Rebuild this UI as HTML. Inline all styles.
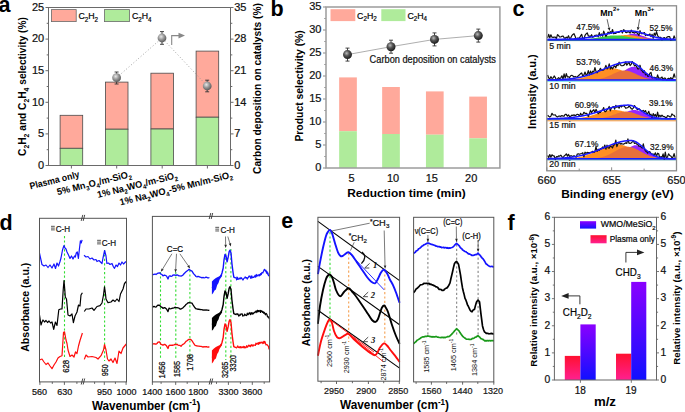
<!DOCTYPE html>
<html><head><meta charset="utf-8"><style>
html,body{margin:0;padding:0;background:#fff;}
svg{display:block;font-family:"Liberation Sans", sans-serif;}
text[font-weight="normal"]{stroke:#111;stroke-width:0.22px;}
</style></head><body>
<svg width="685" height="412" viewBox="0 0 685 412">
<defs>
<radialGradient id="sphA" cx="0.4" cy="0.35" r="0.65"><stop offset="0" stop-color="#e8e8e8"/><stop offset="0.5" stop-color="#9a9a9a"/><stop offset="1" stop-color="#5a5a5a"/></radialGradient>
<radialGradient id="sphB" cx="0.4" cy="0.35" r="0.65"><stop offset="0" stop-color="#bbbbbb"/><stop offset="0.45" stop-color="#555"/><stop offset="1" stop-color="#1a1a1a"/></radialGradient>
<linearGradient id="gPur" x1="0" y1="0" x2="0" y2="1"><stop offset="0" stop-color="#8a00ff"/><stop offset="1" stop-color="#1010ff"/></linearGradient>
<linearGradient id="gRed" x1="0" y1="0" x2="0" y2="1"><stop offset="0" stop-color="#ff1030"/><stop offset="1" stop-color="#ff2090"/></linearGradient>
</defs>
<rect width="685" height="412" fill="#fff"/>
<rect x="60.1" y="115.3" width="22.6" height="33" fill="#ffa99b" stroke="#4a4a4a" stroke-width="0.8" />
<rect x="60.1" y="148.3" width="22.6" height="17.2" fill="#afeb9b" stroke="#4a4a4a" stroke-width="0.8" />
<rect x="105.4" y="82.1" width="22.6" height="47.1" fill="#ffa99b" stroke="#4a4a4a" stroke-width="0.8" />
<rect x="105.4" y="129.2" width="22.6" height="36.3" fill="#afeb9b" stroke="#4a4a4a" stroke-width="0.8" />
<rect x="150.9" y="73.2" width="22.6" height="55.8" fill="#ffa99b" stroke="#4a4a4a" stroke-width="0.8" />
<rect x="150.9" y="129" width="22.6" height="36.5" fill="#afeb9b" stroke="#4a4a4a" stroke-width="0.8" />
<rect x="196.1" y="51.1" width="22.6" height="66.1" fill="#ffa99b" stroke="#4a4a4a" stroke-width="0.8" />
<rect x="196.1" y="117.2" width="22.6" height="48.3" fill="#afeb9b" stroke="#4a4a4a" stroke-width="0.8" />
<rect x="48.5" y="7.5" width="182" height="158" fill="none" stroke="#6a6a6a" stroke-width="1" />
<line x1="45.5" y1="165.5" x2="48.5" y2="165.5" stroke="#6a6a6a" stroke-width="1" />
<text x="44.2" y="168.8" font-size="11" font-weight="normal" text-anchor="end" fill="#111" >0</text>
<line x1="45.5" y1="133.9" x2="48.5" y2="133.9" stroke="#6a6a6a" stroke-width="1" />
<text x="44.2" y="137.2" font-size="11" font-weight="normal" text-anchor="end" fill="#111" >5</text>
<line x1="45.5" y1="102.3" x2="48.5" y2="102.3" stroke="#6a6a6a" stroke-width="1" />
<text x="44.2" y="105.6" font-size="11" font-weight="normal" text-anchor="end" fill="#111" >10</text>
<line x1="45.5" y1="70.7" x2="48.5" y2="70.7" stroke="#6a6a6a" stroke-width="1" />
<text x="44.2" y="74" font-size="11" font-weight="normal" text-anchor="end" fill="#111" >15</text>
<line x1="45.5" y1="39.1" x2="48.5" y2="39.1" stroke="#6a6a6a" stroke-width="1" />
<text x="44.2" y="42.4" font-size="11" font-weight="normal" text-anchor="end" fill="#111" >20</text>
<line x1="45.5" y1="7.5" x2="48.5" y2="7.5" stroke="#6a6a6a" stroke-width="1" />
<text x="44.2" y="10.8" font-size="11" font-weight="normal" text-anchor="end" fill="#111" >25</text>
<line x1="46.7" y1="149.7" x2="48.5" y2="149.7" stroke="#6a6a6a" stroke-width="1" />
<line x1="46.7" y1="118.1" x2="48.5" y2="118.1" stroke="#6a6a6a" stroke-width="1" />
<line x1="46.7" y1="86.5" x2="48.5" y2="86.5" stroke="#6a6a6a" stroke-width="1" />
<line x1="46.7" y1="54.9" x2="48.5" y2="54.9" stroke="#6a6a6a" stroke-width="1" />
<line x1="46.7" y1="23.3" x2="48.5" y2="23.3" stroke="#6a6a6a" stroke-width="1" />
<line x1="230.5" y1="165.5" x2="233.5" y2="165.5" stroke="#6a6a6a" stroke-width="1" />
<text x="234.2" y="168.8" font-size="11" font-weight="normal" text-anchor="start" fill="#111" >0</text>
<line x1="230.5" y1="133.9" x2="233.5" y2="133.9" stroke="#6a6a6a" stroke-width="1" />
<text x="234.2" y="137.2" font-size="11" font-weight="normal" text-anchor="start" fill="#111" >7</text>
<line x1="230.5" y1="102.3" x2="233.5" y2="102.3" stroke="#6a6a6a" stroke-width="1" />
<text x="234.2" y="105.6" font-size="11" font-weight="normal" text-anchor="start" fill="#111" >14</text>
<line x1="230.5" y1="70.7" x2="233.5" y2="70.7" stroke="#6a6a6a" stroke-width="1" />
<text x="234.2" y="74" font-size="11" font-weight="normal" text-anchor="start" fill="#111" >21</text>
<line x1="230.5" y1="39.1" x2="233.5" y2="39.1" stroke="#6a6a6a" stroke-width="1" />
<text x="234.2" y="42.4" font-size="11" font-weight="normal" text-anchor="start" fill="#111" >28</text>
<line x1="230.5" y1="7.5" x2="233.5" y2="7.5" stroke="#6a6a6a" stroke-width="1" />
<text x="234.2" y="10.8" font-size="11" font-weight="normal" text-anchor="start" fill="#111" >35</text>
<line x1="230.5" y1="149.7" x2="232.3" y2="149.7" stroke="#6a6a6a" stroke-width="1" />
<line x1="230.5" y1="118.1" x2="232.3" y2="118.1" stroke="#6a6a6a" stroke-width="1" />
<line x1="230.5" y1="86.5" x2="232.3" y2="86.5" stroke="#6a6a6a" stroke-width="1" />
<line x1="230.5" y1="54.9" x2="232.3" y2="54.9" stroke="#6a6a6a" stroke-width="1" />
<line x1="230.5" y1="23.3" x2="232.3" y2="23.3" stroke="#6a6a6a" stroke-width="1" />
<line x1="71.4" y1="165.5" x2="71.4" y2="168.5" stroke="#6a6a6a" stroke-width="1" />
<line x1="116.7" y1="165.5" x2="116.7" y2="168.5" stroke="#6a6a6a" stroke-width="1" />
<line x1="162.2" y1="165.5" x2="162.2" y2="168.5" stroke="#6a6a6a" stroke-width="1" />
<line x1="207.4" y1="165.5" x2="207.4" y2="168.5" stroke="#6a6a6a" stroke-width="1" />
<rect x="51.4" y="9.6" width="24.8" height="12" fill="#ffa99b" stroke="#6a6a6a" stroke-width="0.8" />
<text x="78.4" y="19.3" font-size="9.3" font-weight="normal" text-anchor="start" fill="#000" textLength="19.6" lengthAdjust="spacingAndGlyphs"><tspan dy="0">C</tspan><tspan dy="2.2" font-size="6.6">2</tspan><tspan dy="-2.2">H</tspan><tspan dy="2.2" font-size="6.6">2</tspan></text>
<rect x="104.5" y="9.6" width="25" height="12" fill="#afeb9b" stroke="#6a6a6a" stroke-width="0.8" />
<text x="131.9" y="19.3" font-size="9.3" font-weight="normal" text-anchor="start" fill="#000" textLength="19.6" lengthAdjust="spacingAndGlyphs"><tspan dy="0">C</tspan><tspan dy="2.2" font-size="6.6">2</tspan><tspan dy="-2.2">H</tspan><tspan dy="2.2" font-size="6.6">4</tspan></text>
<path d="M116.6,77.7 L162,38 L207.2,86" stroke="#999" stroke-width="0.9" fill="none" stroke-dasharray="1 2.2"/>
<line x1="116.6" y1="72" x2="116.6" y2="84" stroke="#333" stroke-width="0.9" />
<line x1="114.6" y1="72" x2="118.6" y2="72" stroke="#333" stroke-width="0.9" />
<line x1="114.6" y1="84" x2="118.6" y2="84" stroke="#333" stroke-width="0.9" />
<circle cx="116.6" cy="77.7" r="4.4" fill="url(#sphA)"/>
<line x1="162" y1="31.6" x2="162" y2="44.3" stroke="#333" stroke-width="0.9" />
<line x1="160" y1="31.6" x2="164" y2="31.6" stroke="#333" stroke-width="0.9" />
<line x1="160" y1="44.3" x2="164" y2="44.3" stroke="#333" stroke-width="0.9" />
<circle cx="162" cy="38" r="4.4" fill="url(#sphA)"/>
<line x1="207.2" y1="80.2" x2="207.2" y2="91.8" stroke="#333" stroke-width="0.9" />
<line x1="205.2" y1="80.2" x2="209.2" y2="80.2" stroke="#333" stroke-width="0.9" />
<line x1="205.2" y1="91.8" x2="209.2" y2="91.8" stroke="#333" stroke-width="0.9" />
<circle cx="207.2" cy="86" r="4.4" fill="url(#sphA)"/>
<path d="M171.7,45 L171.7,35.6 L179.5,35.6" stroke="#888" stroke-width="1.1" fill="none" />
<polygon points="178.5,32.8 185,35.6 178.5,38.4" fill="#888" />
<text x="25.6" y="155.9" font-size="11" font-weight="bold" text-anchor="start" fill="#000" transform="rotate(-90 25.6 155.9)" textLength="138.8" lengthAdjust="spacingAndGlyphs"><tspan dy="0">C</tspan><tspan dy="3.08" font-size="7.48">2</tspan><tspan dy="-3.08">H</tspan><tspan dy="3.08" font-size="7.48">2</tspan><tspan dy="-3.08"> and C</tspan><tspan dy="3.08" font-size="7.48">2</tspan><tspan dy="-3.08">H</tspan><tspan dy="3.08" font-size="7.48">4</tspan><tspan dy="-3.08"> selectivity (%)</tspan></text>
<text x="261.3" y="174" font-size="11" font-weight="bold" text-anchor="start" fill="#000" transform="rotate(-90 261.3 174)" textLength="171" lengthAdjust="spacingAndGlyphs">Carbon deposition on catalysts (%)</text>
<text x="30.5" y="189.5" font-size="9.5" font-weight="bold" text-anchor="start" fill="#000" transform="rotate(-14 30.5 189.5)" textLength="51" lengthAdjust="spacingAndGlyphs"><tspan dy="0">Plasma only</tspan></text>
<text x="57.8" y="195.3" font-size="9.5" font-weight="bold" text-anchor="start" fill="#000" transform="rotate(-14 57.8 195.3)" textLength="76.4" lengthAdjust="spacingAndGlyphs"><tspan dy="0">5% Mn</tspan><tspan dy="2.66" font-size="6.46">3</tspan><tspan dy="-2.66">O</tspan><tspan dy="2.66" font-size="6.46">4</tspan><tspan dy="-2.66">/m-SiO</tspan><tspan dy="2.66" font-size="6.46">2</tspan></text>
<text x="98" y="198" font-size="9.5" font-weight="bold" text-anchor="start" fill="#000" transform="rotate(-14 98 198)" textLength="82.5" lengthAdjust="spacingAndGlyphs"><tspan dy="0">1% Na</tspan><tspan dy="2.66" font-size="6.46">2</tspan><tspan dy="-2.66">WO</tspan><tspan dy="2.66" font-size="6.46">4</tspan><tspan dy="-2.66">/m-SiO</tspan><tspan dy="2.66" font-size="6.46">2</tspan></text>
<text x="120.5" y="205.5" font-size="9.5" font-weight="bold" text-anchor="start" fill="#000" transform="rotate(-14 120.5 205.5)" textLength="116" lengthAdjust="spacingAndGlyphs"><tspan dy="0">1% Na</tspan><tspan dy="2.66" font-size="6.46">2</tspan><tspan dy="-2.66">WO</tspan><tspan dy="2.66" font-size="6.46">4</tspan><tspan dy="-2.66">-5% Mn/m-SiO</tspan><tspan dy="2.66" font-size="6.46">2</tspan></text>
<text x="-1.5" y="11.7" font-size="21.5" font-weight="bold" text-anchor="start" fill="#000" >a</text>
<rect x="339.15" y="77.4" width="17.7" height="53.8" fill="#ffa99b" stroke="none" stroke-width="0" />
<rect x="339.15" y="131.2" width="17.7" height="36.8" fill="#afeb9b" stroke="none" stroke-width="0" />
<rect x="382.15" y="87" width="17.7" height="47" fill="#ffa99b" stroke="none" stroke-width="0" />
<rect x="382.15" y="134" width="17.7" height="34" fill="#afeb9b" stroke="none" stroke-width="0" />
<rect x="425.95" y="91.4" width="17.7" height="43.3" fill="#ffa99b" stroke="none" stroke-width="0" />
<rect x="425.95" y="134.7" width="17.7" height="33.3" fill="#afeb9b" stroke="none" stroke-width="0" />
<rect x="469.25" y="96.6" width="17.7" height="41.7" fill="#ffa99b" stroke="none" stroke-width="0" />
<rect x="469.25" y="138.3" width="17.7" height="29.7" fill="#afeb9b" stroke="none" stroke-width="0" />
<rect x="326" y="7" width="173.9" height="161" fill="none" stroke="#9c9c9c" stroke-width="1.5" />
<line x1="323" y1="168" x2="326" y2="168" stroke="#9c9c9c" stroke-width="1.2" />
<text x="321.4" y="171.1" font-size="11" font-weight="normal" text-anchor="end" fill="#111" >0</text>
<line x1="324.2" y1="156.5" x2="326" y2="156.5" stroke="#9c9c9c" stroke-width="1.2" />
<line x1="323" y1="145" x2="326" y2="145" stroke="#9c9c9c" stroke-width="1.2" />
<text x="321.4" y="148.1" font-size="11" font-weight="normal" text-anchor="end" fill="#111" >5</text>
<line x1="324.2" y1="133.5" x2="326" y2="133.5" stroke="#9c9c9c" stroke-width="1.2" />
<line x1="323" y1="122" x2="326" y2="122" stroke="#9c9c9c" stroke-width="1.2" />
<text x="321.4" y="125.1" font-size="11" font-weight="normal" text-anchor="end" fill="#111" >10</text>
<line x1="324.2" y1="110.5" x2="326" y2="110.5" stroke="#9c9c9c" stroke-width="1.2" />
<line x1="323" y1="99" x2="326" y2="99" stroke="#9c9c9c" stroke-width="1.2" />
<text x="321.4" y="102.1" font-size="11" font-weight="normal" text-anchor="end" fill="#111" >15</text>
<line x1="324.2" y1="87.5" x2="326" y2="87.5" stroke="#9c9c9c" stroke-width="1.2" />
<line x1="323" y1="76" x2="326" y2="76" stroke="#9c9c9c" stroke-width="1.2" />
<text x="321.4" y="79.1" font-size="11" font-weight="normal" text-anchor="end" fill="#111" >20</text>
<line x1="324.2" y1="64.5" x2="326" y2="64.5" stroke="#9c9c9c" stroke-width="1.2" />
<line x1="323" y1="53" x2="326" y2="53" stroke="#9c9c9c" stroke-width="1.2" />
<text x="321.4" y="56.1" font-size="11" font-weight="normal" text-anchor="end" fill="#111" >25</text>
<line x1="324.2" y1="41.5" x2="326" y2="41.5" stroke="#9c9c9c" stroke-width="1.2" />
<line x1="323" y1="30" x2="326" y2="30" stroke="#9c9c9c" stroke-width="1.2" />
<text x="321.4" y="33.1" font-size="11" font-weight="normal" text-anchor="end" fill="#111" >30</text>
<line x1="324.2" y1="18.5" x2="326" y2="18.5" stroke="#9c9c9c" stroke-width="1.2" />
<line x1="323" y1="7" x2="326" y2="7" stroke="#9c9c9c" stroke-width="1.2" />
<text x="321.4" y="10.1" font-size="11" font-weight="normal" text-anchor="end" fill="#111" >35</text>
<text x="351.5" y="182.2" font-size="11" font-weight="normal" text-anchor="middle" fill="#111" >5</text>
<text x="393" y="182.2" font-size="11" font-weight="normal" text-anchor="middle" fill="#111" >10</text>
<text x="431.8" y="182.2" font-size="11" font-weight="normal" text-anchor="middle" fill="#111" >15</text>
<text x="471.2" y="182.2" font-size="11" font-weight="normal" text-anchor="middle" fill="#111" >20</text>
<rect x="330.5" y="9.2" width="24.8" height="11.9" fill="#ffa99b" stroke="none" stroke-width="0" />
<text x="357.1" y="19.1" font-size="9.3" font-weight="normal" text-anchor="start" fill="#000" textLength="19.6" lengthAdjust="spacingAndGlyphs"><tspan dy="0">C</tspan><tspan dy="2.2" font-size="6.6">2</tspan><tspan dy="-2.2">H</tspan><tspan dy="2.2" font-size="6.6">2</tspan></text>
<rect x="381.3" y="9.2" width="24.2" height="11.9" fill="#afeb9b" stroke="none" stroke-width="0" />
<text x="407.4" y="19.1" font-size="9.3" font-weight="normal" text-anchor="start" fill="#000" textLength="19.6" lengthAdjust="spacingAndGlyphs"><tspan dy="0">C</tspan><tspan dy="2.2" font-size="6.6">2</tspan><tspan dy="-2.2">H</tspan><tspan dy="2.2" font-size="6.6">4</tspan></text>
<polyline points="347.5,54.6 391,46.7 434.5,39.4 478.3,35.6" stroke="#999" stroke-width="0.8" fill="none" stroke-linejoin="round" />
<line x1="347.5" y1="48.1" x2="347.5" y2="61.1" stroke="#333" stroke-width="0.9" />
<line x1="345.5" y1="48.1" x2="349.5" y2="48.1" stroke="#333" stroke-width="0.9" />
<line x1="345.5" y1="61.1" x2="349.5" y2="61.1" stroke="#333" stroke-width="0.9" />
<circle cx="347.5" cy="54.6" r="4.5" fill="url(#sphB)"/>
<line x1="391" y1="40.2" x2="391" y2="53.2" stroke="#333" stroke-width="0.9" />
<line x1="389" y1="40.2" x2="393" y2="40.2" stroke="#333" stroke-width="0.9" />
<line x1="389" y1="53.2" x2="393" y2="53.2" stroke="#333" stroke-width="0.9" />
<circle cx="391" cy="46.7" r="4.5" fill="url(#sphB)"/>
<line x1="434.5" y1="32.9" x2="434.5" y2="45.9" stroke="#333" stroke-width="0.9" />
<line x1="432.5" y1="32.9" x2="436.5" y2="32.9" stroke="#333" stroke-width="0.9" />
<line x1="432.5" y1="45.9" x2="436.5" y2="45.9" stroke="#333" stroke-width="0.9" />
<circle cx="434.5" cy="39.4" r="4.5" fill="url(#sphB)"/>
<line x1="478.3" y1="29.1" x2="478.3" y2="42.1" stroke="#333" stroke-width="0.9" />
<line x1="476.3" y1="29.1" x2="480.3" y2="29.1" stroke="#333" stroke-width="0.9" />
<line x1="476.3" y1="42.1" x2="480.3" y2="42.1" stroke="#333" stroke-width="0.9" />
<circle cx="478.3" cy="35.6" r="4.5" fill="url(#sphB)"/>
<text x="369.6" y="62.9" font-size="10" font-weight="normal" text-anchor="start" fill="#111" textLength="126.4" lengthAdjust="spacingAndGlyphs">Carbon deposition on catalysts</text>
<text x="303" y="141.6" font-size="11" font-weight="bold" text-anchor="start" fill="#000" transform="rotate(-90 303 141.6)" textLength="111.4" lengthAdjust="spacingAndGlyphs">Product selectivity (%)</text>
<text x="347.2" y="197" font-size="11" font-weight="bold" text-anchor="start" fill="#000" textLength="118.5" lengthAdjust="spacingAndGlyphs">Reduction time (min)</text>
<text x="270.6" y="15.7" font-size="21.5" font-weight="bold" text-anchor="start" fill="#000" >b</text>
<polygon points="547.4,39.6 547.4,39.6 548,39.6 548.6,39.6 549.2,39.6 549.8,39.6 550.4,39.6 551,39.6 551.6,39.6 552.2,39.6 552.8,39.6 553.4,39.6 554,39.6 554.6,39.6 555.2,39.6 555.8,39.6 556.4,39.6 557,39.6 557.6,39.6 558.2,39.6 558.8,39.6 559.4,39.6 560,39.6 560.6,39.6 561.2,39.6 561.8,39.6 562.4,39.6 563,39.6 563.6,39.6 564.2,39.6 564.8,39.6 565.4,39.6 566,39.6 566.6,39.6 567.2,39.6 567.8,39.6 568.4,39.6 569,39.6 569.6,39.6 570.2,39.6 570.8,39.6 571.4,39.6 572,39.6 572.6,39.6 573.2,39.6 573.8,39.6 574.4,39.6 575,39.6 575.6,39.6 576.2,39.6 576.8,39.6 577.4,39.6 578,39.6 578.6,39.6 579.2,39.6 579.8,39.6 580.4,39.6 581,39.6 581.6,39.6 582.2,39.6 582.8,39.6 583.4,39.6 584,39.6 584.6,39.6 585.2,39.6 585.8,39.6 586.4,39.6 587,39.6 587.6,39.6 588.2,39.6 588.8,39.6 589.4,39.6 590,39.6 590.6,39.6 591.2,39.6 591.8,39.6 592.4,39.6 593,39.6 593.6,39.6 594.2,39.6 594.8,39.6 595.4,39.6 596,39.6 596.6,39.6 597.2,39.6 597.8,39.6 598.4,39.6 599,39.6 599.6,39.6 600.2,39.59 600.8,39.59 601.4,39.59 602,39.59 602.6,39.59 603.2,39.58 603.8,39.58 604.4,39.57 605,39.57 605.6,39.56 606.2,39.55 606.8,39.54 607.4,39.52 608,39.51 608.6,39.49 609.2,39.47 609.8,39.44 610.4,39.41 611,39.37 611.6,39.33 612.2,39.28 612.8,39.23 613.4,39.16 614,39.09 614.6,39.01 615.2,38.92 615.8,38.82 616.4,38.71 617,38.59 617.6,38.46 618.2,38.31 618.8,38.16 619.4,37.99 620,37.81 620.6,37.62 621.2,37.42 621.8,37.21 622.4,36.99 623,36.76 623.6,36.52 624.2,36.28 624.8,36.04 625.4,35.8 626,35.56 626.6,35.32 627.2,35.09 627.8,34.87 628.4,34.66 629,34.46 629.6,34.28 630.2,34.11 630.8,33.97 631.4,33.85 632,33.75 632.6,33.67 633.2,33.62 633.8,33.6 634.4,33.61 635,33.64 635.6,33.69 636.2,33.78 636.8,33.88 637.4,34.01 638,34.16 638.6,34.33 639.2,34.52 639.8,34.73 640.4,34.94 641,35.17 641.6,35.4 642.2,35.64 642.8,35.88 643.4,36.12 644,36.36 644.6,36.6 645.2,36.83 645.8,37.06 646.4,37.28 647,37.49 647.6,37.68 648.2,37.87 648.8,38.05 649.4,38.21 650,38.36 650.6,38.5 651.2,38.63 651.8,38.75 652.4,38.86 653,38.95 653.6,39.04 654.2,39.12 654.8,39.18 655.4,39.24 656,39.3 656.6,39.34 657.2,39.38 657.8,39.42 658.4,39.45 659,39.47 659.6,39.49 660.2,39.51 660.8,39.53 661.4,39.54 662,39.55 662.6,39.56 663.2,39.57 663.8,39.58 664.4,39.58 665,39.58 665.6,39.59 666.2,39.59 666.8,39.59 667.4,39.59 668,39.6 668.6,39.6 669.2,39.6 669.8,39.6 670.4,39.6 671,39.6 671.6,39.6 672.2,39.6 672.8,39.6 673.4,39.6 674,39.6 674.6,39.6 675.2,39.6 675.8,39.6 675.8,39.6" fill="#9628ff" />
<polygon points="547.4,39.6 547.4,39.6 548,39.6 548.6,39.6 549.2,39.6 549.8,39.6 550.4,39.6 551,39.6 551.6,39.6 552.2,39.6 552.8,39.6 553.4,39.6 554,39.6 554.6,39.6 555.2,39.6 555.8,39.6 556.4,39.6 557,39.6 557.6,39.6 558.2,39.6 558.8,39.6 559.4,39.6 560,39.6 560.6,39.6 561.2,39.6 561.8,39.6 562.4,39.6 563,39.6 563.6,39.6 564.2,39.6 564.8,39.6 565.4,39.6 566,39.6 566.6,39.6 567.2,39.6 567.8,39.6 568.4,39.6 569,39.6 569.6,39.6 570.2,39.6 570.8,39.6 571.4,39.6 572,39.6 572.6,39.6 573.2,39.6 573.8,39.6 574.4,39.6 575,39.6 575.6,39.6 576.2,39.6 576.8,39.6 577.4,39.6 578,39.6 578.6,39.6 579.2,39.59 579.8,39.59 580.4,39.59 581,39.59 581.6,39.59 582.2,39.59 582.8,39.59 583.4,39.58 584,39.58 584.6,39.58 585.2,39.57 585.8,39.57 586.4,39.56 587,39.56 587.6,39.55 588.2,39.55 588.8,39.54 589.4,39.53 590,39.52 590.6,39.51 591.2,39.5 591.8,39.48 592.4,39.47 593,39.45 593.6,39.43 594.2,39.41 594.8,39.39 595.4,39.36 596,39.33 596.6,39.3 597.2,39.27 597.8,39.23 598.4,39.19 599,39.15 599.6,39.1 600.2,39.05 600.8,39 601.4,38.94 602,38.88 602.6,38.81 603.2,38.74 603.8,38.66 604.4,38.58 605,38.5 605.6,38.41 606.2,38.32 606.8,38.22 607.4,38.12 608,38.02 608.6,37.91 609.2,37.8 609.8,37.68 610.4,37.56 611,37.44 611.6,37.32 612.2,37.19 612.8,37.07 613.4,36.94 614,36.81 614.6,36.68 615.2,36.55 615.8,36.43 616.4,36.3 617,36.18 617.6,36.06 618.2,35.94 618.8,35.83 619.4,35.72 620,35.62 620.6,35.52 621.2,35.44 621.8,35.35 622.4,35.28 623,35.21 623.6,35.15 624.2,35.11 624.8,35.07 625.4,35.03 626,35.01 626.6,35 627.2,35 627.8,35.01 628.4,35.03 629,35.05 629.6,35.09 630.2,35.14 630.8,35.19 631.4,35.26 632,35.33 632.6,35.41 633.2,35.49 633.8,35.59 634.4,35.69 635,35.79 635.6,35.9 636.2,36.02 636.8,36.14 637.4,36.26 638,36.38 638.6,36.51 639.2,36.64 639.8,36.77 640.4,36.9 641,37.02 641.6,37.15 642.2,37.28 642.8,37.4 643.4,37.52 644,37.64 644.6,37.76 645.2,37.87 645.8,37.98 646.4,38.09 647,38.19 647.6,38.29 648.2,38.38 648.8,38.47 649.4,38.56 650,38.64 650.6,38.71 651.2,38.79 651.8,38.85 652.4,38.92 653,38.98 653.6,39.03 654.2,39.08 654.8,39.13 655.4,39.18 656,39.22 656.6,39.26 657.2,39.29 657.8,39.32 658.4,39.35 659,39.38 659.6,39.4 660.2,39.42 660.8,39.44 661.4,39.46 662,39.48 662.6,39.49 663.2,39.5 663.8,39.52 664.4,39.53 665,39.54 665.6,39.54 666.2,39.55 666.8,39.56 667.4,39.56 668,39.57 668.6,39.57 669.2,39.58 669.8,39.58 670.4,39.58 671,39.59 671.6,39.59 672.2,39.59 672.8,39.59 673.4,39.59 674,39.59 674.6,39.59 675.2,39.6 675.8,39.6 675.8,39.6" fill="#ff8f24" />
<polygon points="547.4,39.6 547.4,39.6 548,39.6 548.6,39.6 549.2,39.6 549.8,39.6 550.4,39.6 551,39.6 551.6,39.6 552.2,39.6 552.8,39.6 553.4,39.6 554,39.6 554.6,39.6 555.2,39.6 555.8,39.6 556.4,39.6 557,39.6 557.6,39.6 558.2,39.6 558.8,39.6 559.4,39.6 560,39.6 560.6,39.6 561.2,39.6 561.8,39.6 562.4,39.6 563,39.6 563.6,39.6 564.2,39.59 564.8,39.59 565.4,39.59 566,39.59 566.6,39.59 567.2,39.59 567.8,39.59 568.4,39.58 569,39.58 569.6,39.58 570.2,39.57 570.8,39.57 571.4,39.57 572,39.56 572.6,39.56 573.2,39.55 573.8,39.54 574.4,39.54 575,39.53 575.6,39.52 576.2,39.51 576.8,39.5 577.4,39.49 578,39.47 578.6,39.46 579.2,39.44 579.8,39.42 580.4,39.4 581,39.38 581.6,39.36 582.2,39.33 582.8,39.3 583.4,39.27 584,39.24 584.6,39.2 585.2,39.16 585.8,39.12 586.4,39.08 587,39.03 587.6,38.98 588.2,38.93 588.8,38.87 589.4,38.81 590,38.75 590.6,38.68 591.2,38.61 591.8,38.54 592.4,38.46 593,38.38 593.6,38.29 594.2,38.21 594.8,38.12 595.4,38.02 596,37.93 596.6,37.83 597.2,37.73 597.8,37.63 598.4,37.52 599,37.41 599.6,37.31 600.2,37.2 600.8,37.09 601.4,36.98 602,36.87 602.6,36.76 603.2,36.66 603.8,36.55 604.4,36.45 605,36.35 605.6,36.25 606.2,36.15 606.8,36.06 607.4,35.98 608,35.89 608.6,35.82 609.2,35.75 609.8,35.68 610.4,35.62 611,35.57 611.6,35.52 612.2,35.48 612.8,35.45 613.4,35.43 614,35.41 614.6,35.4 615.2,35.4 615.8,35.41 616.4,35.42 617,35.44 617.6,35.47 618.2,35.51 618.8,35.55 619.4,35.6 620,35.66 620.6,35.72 621.2,35.79 621.8,35.87 622.4,35.95 623,36.03 623.6,36.12 624.2,36.22 624.8,36.31 625.4,36.41 626,36.52 626.6,36.62 627.2,36.73 627.8,36.83 628.4,36.94 629,37.05 629.6,37.16 630.2,37.27 630.8,37.38 631.4,37.49 632,37.59 632.6,37.69 633.2,37.8 633.8,37.9 634.4,37.99 635,38.09 635.6,38.18 636.2,38.27 636.8,38.35 637.4,38.43 638,38.51 638.6,38.59 639.2,38.66 639.8,38.73 640.4,38.79 641,38.85 641.6,38.91 642.2,38.96 642.8,39.02 643.4,39.06 644,39.11 644.6,39.15 645.2,39.19 645.8,39.23 646.4,39.26 647,39.29 647.6,39.32 648.2,39.35 648.8,39.37 649.4,39.39 650,39.42 650.6,39.43 651.2,39.45 651.8,39.47 652.4,39.48 653,39.49 653.6,39.51 654.2,39.52 654.8,39.53 655.4,39.53 656,39.54 656.6,39.55 657.2,39.56 657.8,39.56 658.4,39.57 659,39.57 659.6,39.57 660.2,39.58 660.8,39.58 661.4,39.58 662,39.59 662.6,39.59 663.2,39.59 663.8,39.59 664.4,39.59 665,39.59 665.6,39.59 666.2,39.59 666.8,39.6 667.4,39.6 668,39.6 668.6,39.6 669.2,39.6 669.8,39.6 670.4,39.6 671,39.6 671.6,39.6 672.2,39.6 672.8,39.6 673.4,39.6 674,39.6 674.6,39.6 675.2,39.6 675.8,39.6 675.8,39.6" fill="#3ccf3c" />
<line x1="546.8" y1="40.6" x2="676.5" y2="40.6" stroke="#2a9a70" stroke-width="1.0" />
<polyline points="547.6,37.85 548.7,34.32 549.8,37.83 550.9,34.83 552,37.18 553.1,37.41 554.2,37.07 555.3,37.08 556.4,38.54 557.5,34.62 558.6,35.53 559.7,37.02 560.8,37 561.9,36.32 563,35.96 564.1,37.67 565.2,38.37 566.3,37.13 567.4,38.09 568.5,35.72 569.6,38.61 570.7,38.02 571.8,35.65 572.9,34.53 574,33.61 575.1,36.31 576.2,39.18 577.3,38.16 578.4,38.31 579.5,37.88 580.6,35.93 581.7,34.27 582.8,38.9 583.9,39.48 585,35.37 586.1,33.87 587.2,32.83 588.3,35.83 589.4,36.08 590.5,36.58 591.6,34.71 592.7,37.34 593.8,36.77 594.9,35.28 596,35.27 597.1,34.99 598.2,36.77 599.3,32.64 600.4,36.01 601.5,33.95 602.6,36.24 603.7,31.21 604.8,34.08 605.9,36.43 607,34.57 608.1,32.07 609.2,33.7 610.3,31.61 611.4,33.28 612.5,29.51 613.6,33.73 614.7,33.53 615.8,33.37 616.9,32.49 618,32.22 619.1,32.41 620.2,31.19 621.3,30.51 622.4,32.97 623.5,29.71 624.6,30.18 625.7,32.49 626.8,32.59 627.9,31.67 629,31.95 630.1,33.04 631.2,30.09 632.3,32.38 633.4,32.3 634.5,33.11 635.6,32.24 636.7,32.59 637.8,33.74 638.9,35.47 640,30.61 641.1,33.64 642.2,33.59 643.3,33.25 644.4,32.56 645.5,35.64 646.6,34.58 647.7,35.4 648.8,34.89 649.9,33.9 651,36.68 652.1,34.35 653.2,38.29 654.3,33.17 655.4,35.32 656.5,31.59 657.6,35.5 658.7,37.38 659.8,37.23 660.9,37.36 662,40.04 663.1,38.15 664.2,37.52 665.3,38.59 666.4,37.96 667.5,36.73 668.6,36.62 669.7,36.56 670.8,40.28 671.9,39.49 673,39.69 674.1,35.94 675.2,38.43" stroke="#111" stroke-width="1.2" fill="none" stroke-linejoin="round" />
<polyline points="547.4,39.56 548,39.56 548.6,39.56 549.2,39.55 549.8,39.55 550.4,39.55 551,39.54 551.6,39.54 552.2,39.53 552.8,39.53 553.4,39.52 554,39.51 554.6,39.51 555.2,39.5 555.8,39.49 556.4,39.49 557,39.48 557.6,39.47 558.2,39.46 558.8,39.45 559.4,39.44 560,39.43 560.6,39.42 561.2,39.4 561.8,39.39 562.4,39.38 563,39.36 563.6,39.34 564.2,39.33 564.8,39.31 565.4,39.29 566,39.27 566.6,39.25 567.2,39.23 567.8,39.21 568.4,39.18 569,39.16 569.6,39.13 570.2,39.1 570.8,39.07 571.4,39.04 572,39.01 572.6,38.98 573.2,38.94 573.8,38.9 574.4,38.87 575,38.83 575.6,38.78 576.2,38.74 576.8,38.7 577.4,38.65 578,38.6 578.6,38.55 579.2,38.5 579.8,38.44 580.4,38.38 581,38.33 581.6,38.26 582.2,38.2 582.8,38.14 583.4,38.07 584,38 584.6,37.93 585.2,37.85 585.8,37.78 586.4,37.7 587,37.62 587.6,37.54 588.2,37.45 588.8,37.36 589.4,37.27 590,37.18 590.6,37.09 591.2,36.99 591.8,36.89 592.4,36.79 593,36.69 593.6,36.59 594.2,36.48 594.8,36.37 595.4,36.26 596,36.15 596.6,36.04 597.2,35.92 597.8,35.8 598.4,35.69 599,35.57 599.6,35.45 600.2,35.32 600.8,35.2 601.4,35.08 602,34.95 602.6,34.83 603.2,34.7 603.8,34.58 604.4,34.45 605,34.32 605.6,34.2 606.2,34.07 606.8,33.94 607.4,33.82 608,33.69 608.6,33.57 609.2,33.45 609.8,33.32 610.4,33.2 611,33.08 611.6,32.96 612.2,32.85 612.8,32.73 613.4,32.62 614,32.51 614.6,32.4 615.2,32.3 615.8,32.2 616.4,32.1 617,32 617.6,31.91 618.2,31.82 618.8,31.73 619.4,31.65 620,31.57 620.6,31.49 621.2,31.42 621.8,31.36 622.4,31.29 623,31.23 623.6,31.18 624.2,31.13 624.8,31.09 625.4,31.05 626,31.01 626.6,30.98 627.2,30.95 627.8,30.93 628.4,30.92 629,30.91 629.6,30.9 630.2,30.9 630.8,30.91 631.4,30.93 632,30.97 632.6,31.01 633.2,31.07 633.8,31.14 634.4,31.22 635,31.31 635.6,31.42 636.2,31.53 636.8,31.65 637.4,31.78 638,31.92 638.6,32.07 639.2,32.23 639.8,32.39 640.4,32.56 641,32.73 641.6,32.91 642.2,33.09 642.8,33.28 643.4,33.47 644,33.67 644.6,33.86 645.2,34.06 645.8,34.26 646.4,34.46 647,34.65 647.6,34.85 648.2,35.04 648.8,35.24 649.4,35.43 650,35.62 650.6,35.8 651.2,35.98 651.8,36.16 652.4,36.33 653,36.5 653.6,36.67 654.2,36.83 654.8,36.98 655.4,37.13 656,37.28 656.6,37.42 657.2,37.55 657.8,37.68 658.4,37.8 659,37.92 659.6,38.03 660.2,38.13 660.8,38.24 661.4,38.33 662,38.42 662.6,38.51 663.2,38.59 663.8,38.67 664.4,38.74 665,38.8 665.6,38.87 666.2,38.93 666.8,38.98 667.4,39.03 668,39.08 668.6,39.13 669.2,39.17 669.8,39.21 670.4,39.24 671,39.27 671.6,39.3 672.2,39.33 672.8,39.36 673.4,39.38 674,39.4 674.6,39.42 675.2,39.44 675.8,39.46" stroke="#1a1aff" stroke-width="1.5" fill="none" stroke-linejoin="round" />
<line x1="546.8" y1="39.6" x2="676.5" y2="39.6" stroke="#1a1aff" stroke-width="1.6" />
<text x="576.3" y="29.5" font-size="8.6" font-weight="normal" text-anchor="start" fill="#111" textLength="23.4" lengthAdjust="spacingAndGlyphs">47.5%</text>
<text x="649.5" y="31.4" font-size="8.6" font-weight="normal" text-anchor="start" fill="#111" textLength="23.1" lengthAdjust="spacingAndGlyphs">52.5%</text>
<text x="549.3" y="48.9" font-size="8.6" font-weight="normal" text-anchor="start" fill="#111" textLength="21.4" lengthAdjust="spacingAndGlyphs">5 min</text>
<polygon points="547.4,80 547.4,80 548,80 548.6,80 549.2,80 549.8,80 550.4,80 551,80 551.6,80 552.2,80 552.8,80 553.4,80 554,80 554.6,80 555.2,80 555.8,80 556.4,80 557,80 557.6,80 558.2,80 558.8,80 559.4,80 560,80 560.6,80 561.2,80 561.8,80 562.4,80 563,80 563.6,80 564.2,80 564.8,80 565.4,80 566,80 566.6,80 567.2,80 567.8,80 568.4,80 569,80 569.6,80 570.2,80 570.8,80 571.4,80 572,80 572.6,80 573.2,80 573.8,80 574.4,80 575,80 575.6,80 576.2,80 576.8,80 577.4,80 578,80 578.6,80 579.2,80 579.8,80 580.4,80 581,80 581.6,80 582.2,80 582.8,80 583.4,80 584,80 584.6,80 585.2,80 585.8,80 586.4,80 587,80 587.6,80 588.2,80 588.8,80 589.4,80 590,80 590.6,79.99 591.2,79.99 591.8,79.99 592.4,79.99 593,79.99 593.6,79.98 594.2,79.98 594.8,79.98 595.4,79.97 596,79.96 596.6,79.96 597.2,79.95 597.8,79.94 598.4,79.93 599,79.91 599.6,79.89 600.2,79.87 600.8,79.85 601.4,79.83 602,79.8 602.6,79.76 603.2,79.72 603.8,79.68 604.4,79.63 605,79.57 605.6,79.5 606.2,79.43 606.8,79.35 607.4,79.25 608,79.15 608.6,79.04 609.2,78.91 609.8,78.77 610.4,78.62 611,78.45 611.6,78.26 612.2,78.07 612.8,77.85 613.4,77.62 614,77.37 614.6,77.1 615.2,76.82 615.8,76.51 616.4,76.19 617,75.86 617.6,75.5 618.2,75.13 618.8,74.75 619.4,74.35 620,73.95 620.6,73.53 621.2,73.1 621.8,72.66 622.4,72.23 623,71.79 623.6,71.35 624.2,70.91 624.8,70.48 625.4,70.06 626,69.66 626.6,69.26 627.2,68.89 627.8,68.54 628.4,68.21 629,67.91 629.6,67.63 630.2,67.39 630.8,67.19 631.4,67.01 632,66.88 632.6,66.78 633.2,66.72 633.8,66.7 634.4,66.72 635,66.78 635.6,66.88 636.2,67.01 636.8,67.19 637.4,67.39 638,67.63 638.6,67.91 639.2,68.21 639.8,68.54 640.4,68.89 641,69.26 641.6,69.66 642.2,70.06 642.8,70.48 643.4,70.91 644,71.35 644.6,71.79 645.2,72.23 645.8,72.66 646.4,73.1 647,73.53 647.6,73.95 648.2,74.35 648.8,74.75 649.4,75.13 650,75.5 650.6,75.86 651.2,76.19 651.8,76.51 652.4,76.82 653,77.1 653.6,77.37 654.2,77.62 654.8,77.85 655.4,78.07 656,78.26 656.6,78.45 657.2,78.62 657.8,78.77 658.4,78.91 659,79.04 659.6,79.15 660.2,79.25 660.8,79.35 661.4,79.43 662,79.5 662.6,79.57 663.2,79.63 663.8,79.68 664.4,79.72 665,79.76 665.6,79.8 666.2,79.83 666.8,79.85 667.4,79.87 668,79.89 668.6,79.91 669.2,79.93 669.8,79.94 670.4,79.95 671,79.96 671.6,79.96 672.2,79.97 672.8,79.98 673.4,79.98 674,79.98 674.6,79.99 675.2,79.99 675.8,79.99 675.8,80" fill="#9628ff" />
<polygon points="547.4,80 547.4,80 548,80 548.6,79.99 549.2,79.99 549.8,79.99 550.4,79.99 551,79.99 551.6,79.99 552.2,79.99 552.8,79.99 553.4,79.98 554,79.98 554.6,79.98 555.2,79.97 555.8,79.97 556.4,79.97 557,79.96 557.6,79.96 558.2,79.95 558.8,79.95 559.4,79.94 560,79.93 560.6,79.92 561.2,79.91 561.8,79.9 562.4,79.89 563,79.88 563.6,79.86 564.2,79.85 564.8,79.83 565.4,79.81 566,79.79 566.6,79.76 567.2,79.74 567.8,79.71 568.4,79.68 569,79.64 569.6,79.6 570.2,79.56 570.8,79.52 571.4,79.47 572,79.42 572.6,79.37 573.2,79.31 573.8,79.24 574.4,79.17 575,79.1 575.6,79.02 576.2,78.94 576.8,78.85 577.4,78.75 578,78.65 578.6,78.54 579.2,78.42 579.8,78.3 580.4,78.17 581,78.04 581.6,77.89 582.2,77.74 582.8,77.59 583.4,77.42 584,77.25 584.6,77.07 585.2,76.88 585.8,76.69 586.4,76.48 587,76.28 587.6,76.06 588.2,75.84 588.8,75.61 589.4,75.38 590,75.14 590.6,74.89 591.2,74.64 591.8,74.39 592.4,74.13 593,73.86 593.6,73.6 594.2,73.33 594.8,73.07 595.4,72.8 596,72.53 596.6,72.26 597.2,72 597.8,71.73 598.4,71.47 599,71.22 599.6,70.97 600.2,70.72 600.8,70.49 601.4,70.26 602,70.03 602.6,69.82 603.2,69.62 603.8,69.43 604.4,69.25 605,69.08 605.6,68.93 606.2,68.78 606.8,68.66 607.4,68.55 608,68.45 608.6,68.37 609.2,68.3 609.8,68.25 610.4,68.22 611,68.2 611.6,68.2 612.2,68.22 612.8,68.25 613.4,68.3 614,68.37 614.6,68.45 615.2,68.55 615.8,68.66 616.4,68.78 617,68.93 617.6,69.08 618.2,69.25 618.8,69.43 619.4,69.62 620,69.82 620.6,70.03 621.2,70.26 621.8,70.49 622.4,70.72 623,70.97 623.6,71.22 624.2,71.47 624.8,71.73 625.4,72 626,72.26 626.6,72.53 627.2,72.8 627.8,73.07 628.4,73.33 629,73.6 629.6,73.86 630.2,74.13 630.8,74.39 631.4,74.64 632,74.89 632.6,75.14 633.2,75.38 633.8,75.61 634.4,75.84 635,76.06 635.6,76.28 636.2,76.48 636.8,76.69 637.4,76.88 638,77.07 638.6,77.25 639.2,77.42 639.8,77.59 640.4,77.74 641,77.89 641.6,78.04 642.2,78.17 642.8,78.3 643.4,78.42 644,78.54 644.6,78.65 645.2,78.75 645.8,78.85 646.4,78.94 647,79.02 647.6,79.1 648.2,79.17 648.8,79.24 649.4,79.31 650,79.37 650.6,79.42 651.2,79.47 651.8,79.52 652.4,79.56 653,79.6 653.6,79.64 654.2,79.68 654.8,79.71 655.4,79.74 656,79.76 656.6,79.79 657.2,79.81 657.8,79.83 658.4,79.85 659,79.86 659.6,79.88 660.2,79.89 660.8,79.9 661.4,79.91 662,79.92 662.6,79.93 663.2,79.94 663.8,79.95 664.4,79.95 665,79.96 665.6,79.96 666.2,79.97 666.8,79.97 667.4,79.97 668,79.98 668.6,79.98 669.2,79.98 669.8,79.99 670.4,79.99 671,79.99 671.6,79.99 672.2,79.99 672.8,79.99 673.4,79.99 674,79.99 674.6,80 675.2,80 675.8,80 675.8,80" fill="#ff8f24" />
<polygon points="547.4,80 547.4,80 548,80 548.6,80 549.2,80 549.8,80 550.4,80 551,80 551.6,80 552.2,80 552.8,80 553.4,80 554,80 554.6,80 555.2,80 555.8,80 556.4,80 557,80 557.6,80 558.2,80 558.8,80 559.4,80 560,80 560.6,80 561.2,80 561.8,80 562.4,80 563,80 563.6,80 564.2,80 564.8,80 565.4,80 566,80 566.6,80 567.2,80 567.8,80 568.4,80 569,80 569.6,80 570.2,80 570.8,80 571.4,80 572,80 572.6,80 573.2,80 573.8,80 574.4,80 575,80 575.6,80 576.2,80 576.8,80 577.4,80 578,79.99 578.6,79.99 579.2,79.99 579.8,79.99 580.4,79.99 581,79.99 581.6,79.98 582.2,79.98 582.8,79.98 583.4,79.97 584,79.97 584.6,79.96 585.2,79.96 585.8,79.95 586.4,79.94 587,79.93 587.6,79.92 588.2,79.9 588.8,79.89 589.4,79.87 590,79.85 590.6,79.82 591.2,79.8 591.8,79.77 592.4,79.73 593,79.7 593.6,79.65 594.2,79.61 594.8,79.56 595.4,79.5 596,79.43 596.6,79.36 597.2,79.29 597.8,79.2 598.4,79.11 599,79.01 599.6,78.9 600.2,78.78 600.8,78.65 601.4,78.51 602,78.36 602.6,78.2 603.2,78.03 603.8,77.85 604.4,77.66 605,77.46 605.6,77.25 606.2,77.03 606.8,76.8 607.4,76.56 608,76.31 608.6,76.05 609.2,75.79 609.8,75.51 610.4,75.24 611,74.95 611.6,74.67 612.2,74.38 612.8,74.09 613.4,73.81 614,73.52 614.6,73.24 615.2,72.96 615.8,72.7 616.4,72.44 617,72.19 617.6,71.95 618.2,71.72 618.8,71.51 619.4,71.32 620,71.15 620.6,70.99 621.2,70.85 621.8,70.74 622.4,70.64 623,70.57 623.6,70.53 624.2,70.5 624.8,70.5 625.4,70.53 626,70.57 626.6,70.64 627.2,70.74 627.8,70.85 628.4,70.99 629,71.15 629.6,71.32 630.2,71.51 630.8,71.72 631.4,71.95 632,72.19 632.6,72.44 633.2,72.7 633.8,72.96 634.4,73.24 635,73.52 635.6,73.81 636.2,74.09 636.8,74.38 637.4,74.67 638,74.95 638.6,75.24 639.2,75.51 639.8,75.79 640.4,76.05 641,76.31 641.6,76.56 642.2,76.8 642.8,77.03 643.4,77.25 644,77.46 644.6,77.66 645.2,77.85 645.8,78.03 646.4,78.2 647,78.36 647.6,78.51 648.2,78.65 648.8,78.78 649.4,78.9 650,79.01 650.6,79.11 651.2,79.2 651.8,79.29 652.4,79.36 653,79.43 653.6,79.5 654.2,79.56 654.8,79.61 655.4,79.65 656,79.7 656.6,79.73 657.2,79.77 657.8,79.8 658.4,79.82 659,79.85 659.6,79.87 660.2,79.89 660.8,79.9 661.4,79.92 662,79.93 662.6,79.94 663.2,79.95 663.8,79.96 664.4,79.96 665,79.97 665.6,79.97 666.2,79.98 666.8,79.98 667.4,79.98 668,79.99 668.6,79.99 669.2,79.99 669.8,79.99 670.4,79.99 671,79.99 671.6,80 672.2,80 672.8,80 673.4,80 674,80 674.6,80 675.2,80 675.8,80 675.8,80" fill="#e8703a" />
<line x1="546.8" y1="81" x2="676.5" y2="81" stroke="#20c8d8" stroke-width="1.0" />
<polyline points="547.6,75.06 548.7,77.94 549.8,79.05 550.9,76.67 552,78.35 553.1,78.02 554.2,75.93 555.3,77.55 556.4,79.99 557.5,78.92 558.6,77.69 559.7,78.79 560.8,77.84 561.9,75.77 563,79.28 564.1,73.81 565.2,78.13 566.3,73.64 567.4,76.98 568.5,76.77 569.6,77.55 570.7,75.75 571.8,75.31 572.9,75.91 574,77.12 575.1,76.39 576.2,77.12 577.3,76.81 578.4,75.71 579.5,74.82 580.6,73.56 581.7,72.94 582.8,76.5 583.9,74.94 585,72.01 586.1,75.06 587.2,74.21 588.3,70.56 589.4,74.99 590.5,71.04 591.6,74.14 592.7,71.19 593.8,72.03 594.9,67.53 596,71.45 597.1,72.87 598.2,70.7 599.3,70.6 600.4,68.33 601.5,70.11 602.6,70.21 603.7,70.02 604.8,68.28 605.9,65.37 607,68.9 608.1,68.19 609.2,63.8 610.3,69.06 611.4,67.1 612.5,68.88 613.6,67.03 614.7,65.84 615.8,67.8 616.9,64.63 618,65.55 619.1,62.18 620.2,64.75 621.3,65.59 622.4,65.75 623.5,65.44 624.6,64.56 625.7,61.87 626.8,65.19 627.9,63.59 629,62.26 630.1,65.67 631.2,64.35 632.3,61.54 633.4,63.54 634.5,65.83 635.6,65.4 636.7,66.74 637.8,68.98 638.9,68.91 640,65.22 641.1,69.99 642.2,70.86 643.3,72.62 644.4,70.74 645.5,74.97 646.6,73.75 647.7,76.29 648.8,76.12 649.9,73.21 651,72.4 652.1,77.92 653.2,77.48 654.3,77.39 655.4,77.61 656.5,79.18 657.6,74.94 658.7,78.3 659.8,78.04 660.9,78.11 662,77.04 663.1,79.68 664.2,78.06 665.3,78.2 666.4,79.98 667.5,79.05 668.6,78.3 669.7,79.26 670.8,77.55 671.9,79.45 673,77.92 674.1,73.78 675.2,77.67" stroke="#111" stroke-width="1.2" fill="none" stroke-linejoin="round" />
<polyline points="547.4,79.9 548,79.89 548.6,79.88 549.2,79.87 549.8,79.86 550.4,79.85 551,79.84 551.6,79.83 552.2,79.81 552.8,79.8 553.4,79.79 554,79.77 554.6,79.76 555.2,79.74 555.8,79.72 556.4,79.7 557,79.68 557.6,79.66 558.2,79.63 558.8,79.61 559.4,79.58 560,79.56 560.6,79.53 561.2,79.5 561.8,79.46 562.4,79.43 563,79.39 563.6,79.35 564.2,79.31 564.8,79.27 565.4,79.23 566,79.18 566.6,79.13 567.2,79.08 567.8,79.03 568.4,78.97 569,78.91 569.6,78.85 570.2,78.78 570.8,78.72 571.4,78.65 572,78.57 572.6,78.5 573.2,78.42 573.8,78.33 574.4,78.24 575,78.15 575.6,78.06 576.2,77.96 576.8,77.86 577.4,77.75 578,77.64 578.6,77.53 579.2,77.41 579.8,77.29 580.4,77.17 581,77.04 581.6,76.9 582.2,76.76 582.8,76.62 583.4,76.47 584,76.32 584.6,76.17 585.2,76 585.8,75.84 586.4,75.67 587,75.5 587.6,75.32 588.2,75.14 588.8,74.95 589.4,74.76 590,74.56 590.6,74.36 591.2,74.16 591.8,73.95 592.4,73.74 593,73.52 593.6,73.3 594.2,73.08 594.8,72.85 595.4,72.62 596,72.39 596.6,72.15 597.2,71.91 597.8,71.67 598.4,71.43 599,71.18 599.6,70.93 600.2,70.68 600.8,70.43 601.4,70.18 602,69.92 602.6,69.66 603.2,69.41 603.8,69.15 604.4,68.89 605,68.64 605.6,68.38 606.2,68.12 606.8,67.87 607.4,67.61 608,67.36 608.6,67.11 609.2,66.86 609.8,66.62 610.4,66.38 611,66.14 611.6,65.9 612.2,65.67 612.8,65.44 613.4,65.22 614,65 614.6,64.79 615.2,64.58 615.8,64.38 616.4,64.19 617,64 617.6,63.81 618.2,63.64 618.8,63.47 619.4,63.31 620,63.15 620.6,63.01 621.2,62.87 621.8,62.74 622.4,62.62 623,62.51 623.6,62.41 624.2,62.31 624.8,62.23 625.4,62.15 626,62.09 626.6,62.03 627.2,61.99 627.8,61.95 628.4,61.92 629,61.91 629.6,61.9 630.2,61.92 630.8,61.98 631.4,62.09 632,62.24 632.6,62.44 633.2,62.68 633.8,62.96 634.4,63.28 635,63.64 635.6,64.03 636.2,64.45 636.8,64.9 637.4,65.37 638,65.87 638.6,66.38 639.2,66.91 639.8,67.45 640.4,68 641,68.56 641.6,69.11 642.2,69.67 642.8,70.23 643.4,70.77 644,71.31 644.6,71.84 645.2,72.36 645.8,72.86 646.4,73.35 647,73.82 647.6,74.27 648.2,74.7 648.8,75.12 649.4,75.51 650,75.88 650.6,76.23 651.2,76.56 651.8,76.87 652.4,77.16 653,77.42 653.6,77.67 654.2,77.9 654.8,78.12 655.4,78.31 656,78.49 656.6,78.65 657.2,78.8 657.8,78.94 658.4,79.06 659,79.17 659.6,79.27 660.2,79.36 660.8,79.44 661.4,79.51 662,79.57 662.6,79.63 663.2,79.68 663.8,79.72 664.4,79.76 665,79.79 665.6,79.82 666.2,79.85 666.8,79.87 667.4,79.89 668,79.91 668.6,79.92 669.2,79.93 669.8,79.94 670.4,79.95 671,79.96 671.6,79.97 672.2,79.97 672.8,79.98 673.4,79.98 674,79.98 674.6,79.99 675.2,79.99 675.8,79.99" stroke="#1a1aff" stroke-width="1.5" fill="none" stroke-linejoin="round" />
<line x1="546.8" y1="80" x2="676.5" y2="80" stroke="#1a1aff" stroke-width="1.6" />
<text x="576.3" y="65.4" font-size="8.6" font-weight="normal" text-anchor="start" fill="#111" textLength="24.1" lengthAdjust="spacingAndGlyphs">53.7%</text>
<text x="649.5" y="71" font-size="8.6" font-weight="normal" text-anchor="start" fill="#111" textLength="23.6" lengthAdjust="spacingAndGlyphs">46.3%</text>
<text x="549.3" y="88.8" font-size="8.6" font-weight="normal" text-anchor="start" fill="#111" textLength="26.2" lengthAdjust="spacingAndGlyphs">10 min</text>
<polygon points="547.4,118.8 547.4,118.8 548,118.8 548.6,118.8 549.2,118.8 549.8,118.8 550.4,118.8 551,118.8 551.6,118.8 552.2,118.8 552.8,118.8 553.4,118.8 554,118.8 554.6,118.8 555.2,118.8 555.8,118.8 556.4,118.8 557,118.8 557.6,118.8 558.2,118.8 558.8,118.8 559.4,118.8 560,118.8 560.6,118.8 561.2,118.8 561.8,118.8 562.4,118.8 563,118.8 563.6,118.8 564.2,118.8 564.8,118.8 565.4,118.8 566,118.8 566.6,118.8 567.2,118.8 567.8,118.8 568.4,118.8 569,118.8 569.6,118.8 570.2,118.8 570.8,118.8 571.4,118.8 572,118.8 572.6,118.8 573.2,118.8 573.8,118.8 574.4,118.8 575,118.8 575.6,118.8 576.2,118.8 576.8,118.8 577.4,118.8 578,118.8 578.6,118.8 579.2,118.8 579.8,118.8 580.4,118.8 581,118.8 581.6,118.8 582.2,118.8 582.8,118.8 583.4,118.8 584,118.8 584.6,118.8 585.2,118.8 585.8,118.8 586.4,118.8 587,118.8 587.6,118.8 588.2,118.8 588.8,118.8 589.4,118.8 590,118.8 590.6,118.8 591.2,118.8 591.8,118.8 592.4,118.8 593,118.8 593.6,118.8 594.2,118.79 594.8,118.79 595.4,118.79 596,118.79 596.6,118.79 597.2,118.78 597.8,118.78 598.4,118.77 599,118.77 599.6,118.76 600.2,118.75 600.8,118.75 601.4,118.74 602,118.72 602.6,118.71 603.2,118.69 603.8,118.67 604.4,118.65 605,118.62 605.6,118.59 606.2,118.55 606.8,118.51 607.4,118.47 608,118.42 608.6,118.36 609.2,118.29 609.8,118.22 610.4,118.14 611,118.05 611.6,117.95 612.2,117.84 612.8,117.72 613.4,117.59 614,117.44 614.6,117.29 615.2,117.12 615.8,116.94 616.4,116.74 617,116.54 617.6,116.32 618.2,116.08 618.8,115.84 619.4,115.58 620,115.32 620.6,115.04 621.2,114.76 621.8,114.47 622.4,114.17 623,113.87 623.6,113.56 624.2,113.26 624.8,112.96 625.4,112.66 626,112.36 626.6,112.07 627.2,111.8 627.8,111.53 628.4,111.29 629,111.05 629.6,110.84 630.2,110.65 630.8,110.48 631.4,110.33 632,110.21 632.6,110.11 633.2,110.05 633.8,110.01 634.4,110 635,110.02 635.6,110.07 636.2,110.14 636.8,110.25 637.4,110.38 638,110.53 638.6,110.71 639.2,110.91 639.8,111.13 640.4,111.37 641,111.62 641.6,111.89 642.2,112.17 642.8,112.46 643.4,112.76 644,113.06 644.6,113.36 645.2,113.67 645.8,113.97 646.4,114.27 647,114.57 647.6,114.85 648.2,115.14 648.8,115.41 649.4,115.67 650,115.92 650.6,116.16 651.2,116.39 651.8,116.61 652.4,116.81 653,117 653.6,117.18 654.2,117.34 654.8,117.49 655.4,117.63 656,117.76 656.6,117.88 657.2,117.98 657.8,118.08 658.4,118.17 659,118.25 659.6,118.32 660.2,118.38 660.8,118.44 661.4,118.49 662,118.53 662.6,118.57 663.2,118.6 663.8,118.63 664.4,118.66 665,118.68 665.6,118.7 666.2,118.71 666.8,118.73 667.4,118.74 668,118.75 668.6,118.76 669.2,118.76 669.8,118.77 670.4,118.78 671,118.78 671.6,118.78 672.2,118.79 672.8,118.79 673.4,118.79 674,118.79 674.6,118.79 675.2,118.8 675.8,118.8 675.8,118.8" fill="#9628ff" />
<polygon points="547.4,118.8 547.4,118.8 548,118.8 548.6,118.8 549.2,118.8 549.8,118.8 550.4,118.8 551,118.8 551.6,118.8 552.2,118.79 552.8,118.79 553.4,118.79 554,118.79 554.6,118.79 555.2,118.79 555.8,118.79 556.4,118.79 557,118.78 557.6,118.78 558.2,118.78 558.8,118.78 559.4,118.77 560,118.77 560.6,118.77 561.2,118.76 561.8,118.76 562.4,118.75 563,118.74 563.6,118.74 564.2,118.73 564.8,118.72 565.4,118.71 566,118.7 566.6,118.69 567.2,118.68 567.8,118.66 568.4,118.65 569,118.63 569.6,118.61 570.2,118.59 570.8,118.57 571.4,118.54 572,118.51 572.6,118.49 573.2,118.45 573.8,118.42 574.4,118.38 575,118.34 575.6,118.3 576.2,118.25 576.8,118.2 577.4,118.15 578,118.09 578.6,118.03 579.2,117.96 579.8,117.89 580.4,117.82 581,117.74 581.6,117.65 582.2,117.56 582.8,117.47 583.4,117.37 584,117.26 584.6,117.15 585.2,117.04 585.8,116.92 586.4,116.79 587,116.66 587.6,116.52 588.2,116.38 588.8,116.23 589.4,116.08 590,115.92 590.6,115.75 591.2,115.58 591.8,115.41 592.4,115.23 593,115.05 593.6,114.87 594.2,114.68 594.8,114.48 595.4,114.29 596,114.09 596.6,113.9 597.2,113.7 597.8,113.5 598.4,113.3 599,113.1 599.6,112.9 600.2,112.7 600.8,112.51 601.4,112.31 602,112.13 602.6,111.94 603.2,111.76 603.8,111.59 604.4,111.42 605,111.26 605.6,111.11 606.2,110.96 606.8,110.83 607.4,110.7 608,110.58 608.6,110.47 609.2,110.37 609.8,110.28 610.4,110.21 611,110.14 611.6,110.09 612.2,110.05 612.8,110.02 613.4,110 614,110 614.6,110.01 615.2,110.03 615.8,110.06 616.4,110.11 617,110.16 617.6,110.23 618.2,110.31 618.8,110.4 619.4,110.5 620,110.62 620.6,110.74 621.2,110.87 621.8,111.01 622.4,111.16 623,111.31 623.6,111.48 624.2,111.65 624.8,111.82 625.4,112 626,112.19 626.6,112.38 627.2,112.57 627.8,112.77 628.4,112.96 629,113.16 629.6,113.36 630.2,113.56 630.8,113.76 631.4,113.96 632,114.16 632.6,114.36 633.2,114.55 633.8,114.74 634.4,114.93 635,115.11 635.6,115.29 636.2,115.47 636.8,115.64 637.4,115.81 638,115.97 638.6,116.13 639.2,116.28 639.8,116.43 640.4,116.57 641,116.7 641.6,116.83 642.2,116.96 642.8,117.08 643.4,117.19 644,117.3 644.6,117.4 645.2,117.5 645.8,117.59 646.4,117.68 647,117.76 647.6,117.84 648.2,117.92 648.8,117.98 649.4,118.05 650,118.11 650.6,118.17 651.2,118.22 651.8,118.27 652.4,118.31 653,118.36 653.6,118.39 654.2,118.43 654.8,118.46 655.4,118.5 656,118.52 656.6,118.55 657.2,118.57 657.8,118.6 658.4,118.62 659,118.63 659.6,118.65 660.2,118.67 660.8,118.68 661.4,118.69 662,118.7 662.6,118.71 663.2,118.72 663.8,118.73 664.4,118.74 665,118.75 665.6,118.75 666.2,118.76 666.8,118.76 667.4,118.77 668,118.77 668.6,118.77 669.2,118.78 669.8,118.78 670.4,118.78 671,118.78 671.6,118.79 672.2,118.79 672.8,118.79 673.4,118.79 674,118.79 674.6,118.79 675.2,118.79 675.8,118.8 675.8,118.8" fill="#ff8f24" />
<polygon points="547.4,118.8 547.4,118.8 548,118.8 548.6,118.8 549.2,118.8 549.8,118.8 550.4,118.8 551,118.8 551.6,118.8 552.2,118.8 552.8,118.8 553.4,118.8 554,118.8 554.6,118.8 555.2,118.8 555.8,118.8 556.4,118.8 557,118.8 557.6,118.8 558.2,118.8 558.8,118.8 559.4,118.8 560,118.8 560.6,118.8 561.2,118.8 561.8,118.8 562.4,118.8 563,118.8 563.6,118.8 564.2,118.8 564.8,118.8 565.4,118.8 566,118.8 566.6,118.8 567.2,118.8 567.8,118.8 568.4,118.8 569,118.8 569.6,118.8 570.2,118.8 570.8,118.8 571.4,118.8 572,118.8 572.6,118.8 573.2,118.8 573.8,118.8 574.4,118.8 575,118.8 575.6,118.8 576.2,118.8 576.8,118.8 577.4,118.8 578,118.8 578.6,118.8 579.2,118.8 579.8,118.8 580.4,118.8 581,118.8 581.6,118.8 582.2,118.79 582.8,118.79 583.4,118.79 584,118.79 584.6,118.79 585.2,118.79 585.8,118.78 586.4,118.78 587,118.78 587.6,118.77 588.2,118.77 588.8,118.76 589.4,118.75 590,118.75 590.6,118.74 591.2,118.73 591.8,118.71 592.4,118.7 593,118.68 593.6,118.66 594.2,118.64 594.8,118.62 595.4,118.59 596,118.56 596.6,118.53 597.2,118.49 597.8,118.44 598.4,118.4 599,118.34 599.6,118.28 600.2,118.22 600.8,118.15 601.4,118.07 602,117.98 602.6,117.89 603.2,117.79 603.8,117.68 604.4,117.57 605,117.44 605.6,117.31 606.2,117.16 606.8,117.01 607.4,116.85 608,116.68 608.6,116.51 609.2,116.32 609.8,116.13 610.4,115.93 611,115.72 611.6,115.51 612.2,115.3 612.8,115.07 613.4,114.85 614,114.62 614.6,114.4 615.2,114.17 615.8,113.94 616.4,113.72 617,113.5 617.6,113.29 618.2,113.08 618.8,112.88 619.4,112.69 620,112.52 620.6,112.35 621.2,112.2 621.8,112.06 622.4,111.94 623,111.84 623.6,111.76 624.2,111.69 624.8,111.64 625.4,111.61 626,111.6 626.6,111.61 627.2,111.64 627.8,111.69 628.4,111.76 629,111.84 629.6,111.94 630.2,112.06 630.8,112.2 631.4,112.35 632,112.52 632.6,112.69 633.2,112.88 633.8,113.08 634.4,113.29 635,113.5 635.6,113.72 636.2,113.94 636.8,114.17 637.4,114.4 638,114.62 638.6,114.85 639.2,115.07 639.8,115.3 640.4,115.51 641,115.72 641.6,115.93 642.2,116.13 642.8,116.32 643.4,116.51 644,116.68 644.6,116.85 645.2,117.01 645.8,117.16 646.4,117.31 647,117.44 647.6,117.57 648.2,117.68 648.8,117.79 649.4,117.89 650,117.98 650.6,118.07 651.2,118.15 651.8,118.22 652.4,118.28 653,118.34 653.6,118.4 654.2,118.44 654.8,118.49 655.4,118.53 656,118.56 656.6,118.59 657.2,118.62 657.8,118.64 658.4,118.66 659,118.68 659.6,118.7 660.2,118.71 660.8,118.73 661.4,118.74 662,118.75 662.6,118.75 663.2,118.76 663.8,118.77 664.4,118.77 665,118.78 665.6,118.78 666.2,118.78 666.8,118.79 667.4,118.79 668,118.79 668.6,118.79 669.2,118.79 669.8,118.79 670.4,118.8 671,118.8 671.6,118.8 672.2,118.8 672.8,118.8 673.4,118.8 674,118.8 674.6,118.8 675.2,118.8 675.8,118.8 675.8,118.8" fill="#e8703a" />
<line x1="546.8" y1="119.8" x2="676.5" y2="119.8" stroke="#2a9a90" stroke-width="1.0" />
<line x1="546.8" y1="120.8" x2="676.5" y2="120.8" stroke="#ff9a40" stroke-width="1.0" />
<polyline points="547.6,115.17 548.7,116.2 549.8,117.11 550.9,116.06 552,113.26 553.1,114.95 554.2,114.98 555.3,114.83 556.4,116.48 557.5,116.97 558.6,116.13 559.7,116.18 560.8,116.35 561.9,115.59 563,116.07 564.1,116.12 565.2,114.27 566.3,114.33 567.4,116.18 568.5,114.89 569.6,116.65 570.7,116.27 571.8,115.2 572.9,115.44 574,114.77 575.1,115.72 576.2,114.93 577.3,114.26 578.4,114.52 579.5,116.34 580.6,113.25 581.7,115.21 582.8,114.53 583.9,112.28 585,113.41 586.1,113.22 587.2,114.09 588.3,116.57 589.4,113.94 590.5,110.17 591.6,112.51 592.7,110.7 593.8,109.75 594.9,112.47 596,109.37 597.1,111.47 598.2,113.74 599.3,112.44 600.4,112.36 601.5,110.36 602.6,109.99 603.7,107.54 604.8,111.71 605.9,111.55 607,109.78 608.1,108.49 609.2,106.5 610.3,110.83 611.4,107.93 612.5,106.98 613.6,106.7 614.7,109.13 615.8,105.37 616.9,107.4 618,106.18 619.1,108.21 620.2,105.46 621.3,107.01 622.4,105.94 623.5,105.83 624.6,106.52 625.7,108.29 626.8,107.94 627.9,107.54 629,106.15 630.1,107.07 631.2,108.64 632.3,109.26 633.4,107.8 634.5,105.54 635.6,107.4 636.7,108.92 637.8,109.65 638.9,108.54 640,109.69 641.1,110.96 642.2,111.1 643.3,110.45 644.4,111.96 645.5,110.55 646.6,113.59 647.7,113.38 648.8,111.33 649.9,115.24 651,114.1 652.1,117.71 653.2,113.56 654.3,116.09 655.4,114.46 656.5,117.68 657.6,112.02 658.7,117.05 659.8,115.25 660.9,116.55 662,115.11 663.1,116.44 664.2,116.53 665.3,117.25 666.4,118.34 667.5,115.64 668.6,116.06 669.7,116.85 670.8,116.88 671.9,113.86 673,115 674.1,115.31 675.2,117.36" stroke="#111" stroke-width="1.2" fill="none" stroke-linejoin="round" />
<polyline points="547.4,118.69 548,118.68 548.6,118.67 549.2,118.66 549.8,118.65 550.4,118.64 551,118.63 551.6,118.62 552.2,118.61 552.8,118.6 553.4,118.58 554,118.57 554.6,118.55 555.2,118.53 555.8,118.52 556.4,118.5 557,118.48 557.6,118.46 558.2,118.43 558.8,118.41 559.4,118.39 560,118.36 560.6,118.33 561.2,118.3 561.8,118.27 562.4,118.24 563,118.21 563.6,118.17 564.2,118.14 564.8,118.1 565.4,118.06 566,118.02 566.6,117.97 567.2,117.93 567.8,117.88 568.4,117.83 569,117.77 569.6,117.72 570.2,117.66 570.8,117.6 571.4,117.54 572,117.48 572.6,117.41 573.2,117.34 573.8,117.27 574.4,117.19 575,117.11 575.6,117.03 576.2,116.95 576.8,116.86 577.4,116.77 578,116.68 578.6,116.58 579.2,116.48 579.8,116.38 580.4,116.27 581,116.16 581.6,116.05 582.2,115.94 582.8,115.82 583.4,115.7 584,115.57 584.6,115.44 585.2,115.31 585.8,115.18 586.4,115.04 587,114.9 587.6,114.75 588.2,114.6 588.8,114.45 589.4,114.3 590,114.14 590.6,113.99 591.2,113.82 591.8,113.66 592.4,113.49 593,113.32 593.6,113.15 594.2,112.97 594.8,112.8 595.4,112.62 596,112.44 596.6,112.25 597.2,112.07 597.8,111.88 598.4,111.7 599,111.51 599.6,111.32 600.2,111.13 600.8,110.94 601.4,110.75 602,110.55 602.6,110.36 603.2,110.17 603.8,109.98 604.4,109.79 605,109.6 605.6,109.41 606.2,109.22 606.8,109.04 607.4,108.85 608,108.67 608.6,108.49 609.2,108.31 609.8,108.13 610.4,107.96 611,107.79 611.6,107.63 612.2,107.46 612.8,107.3 613.4,107.15 614,107 614.6,106.85 615.2,106.71 615.8,106.57 616.4,106.44 617,106.31 617.6,106.19 618.2,106.08 618.8,105.97 619.4,105.86 620,105.76 620.6,105.67 621.2,105.59 621.8,105.51 622.4,105.44 623,105.37 623.6,105.31 624.2,105.26 624.8,105.22 625.4,105.18 626,105.15 626.6,105.13 627.2,105.11 627.8,105.1 628.4,105.1 629,105.13 629.6,105.19 630.2,105.27 630.8,105.39 631.4,105.54 632,105.72 632.6,105.92 633.2,106.15 633.8,106.41 634.4,106.69 635,106.98 635.6,107.3 636.2,107.64 636.8,107.99 637.4,108.35 638,108.72 638.6,109.11 639.2,109.5 639.8,109.89 640.4,110.29 641,110.69 641.6,111.09 642.2,111.48 642.8,111.87 643.4,112.26 644,112.64 644.6,113.01 645.2,113.37 645.8,113.72 646.4,114.05 647,114.38 647.6,114.69 648.2,114.99 648.8,115.28 649.4,115.55 650,115.81 650.6,116.05 651.2,116.28 651.8,116.49 652.4,116.7 653,116.89 653.6,117.06 654.2,117.23 654.8,117.38 655.4,117.52 656,117.64 656.6,117.76 657.2,117.87 657.8,117.97 658.4,118.06 659,118.14 659.6,118.22 660.2,118.28 660.8,118.34 661.4,118.4 662,118.45 662.6,118.49 663.2,118.53 663.8,118.56 664.4,118.59 665,118.62 665.6,118.64 666.2,118.67 666.8,118.68 667.4,118.7 668,118.71 668.6,118.73 669.2,118.74 669.8,118.75 670.4,118.75 671,118.76 671.6,118.77 672.2,118.77 672.8,118.78 673.4,118.78 674,118.78 674.6,118.79 675.2,118.79 675.8,118.79" stroke="#1a1aff" stroke-width="1.5" fill="none" stroke-linejoin="round" />
<line x1="546.8" y1="118.8" x2="676.5" y2="118.8" stroke="#1a1aff" stroke-width="1.6" />
<text x="574.7" y="107.8" font-size="8.6" font-weight="normal" text-anchor="start" fill="#111" textLength="23.7" lengthAdjust="spacingAndGlyphs">60.9%</text>
<text x="649" y="105.9" font-size="8.6" font-weight="normal" text-anchor="start" fill="#111" textLength="23.6" lengthAdjust="spacingAndGlyphs">39.1%</text>
<text x="549.3" y="128.4" font-size="8.6" font-weight="normal" text-anchor="start" fill="#111" textLength="26.2" lengthAdjust="spacingAndGlyphs">15 min</text>
<polygon points="547.4,158.8 547.4,158.8 548,158.8 548.6,158.8 549.2,158.8 549.8,158.8 550.4,158.8 551,158.8 551.6,158.8 552.2,158.8 552.8,158.8 553.4,158.8 554,158.8 554.6,158.8 555.2,158.8 555.8,158.8 556.4,158.8 557,158.8 557.6,158.8 558.2,158.8 558.8,158.8 559.4,158.8 560,158.8 560.6,158.8 561.2,158.8 561.8,158.8 562.4,158.8 563,158.8 563.6,158.8 564.2,158.8 564.8,158.8 565.4,158.8 566,158.8 566.6,158.8 567.2,158.8 567.8,158.8 568.4,158.8 569,158.8 569.6,158.8 570.2,158.8 570.8,158.8 571.4,158.8 572,158.8 572.6,158.8 573.2,158.8 573.8,158.8 574.4,158.8 575,158.8 575.6,158.8 576.2,158.8 576.8,158.8 577.4,158.8 578,158.8 578.6,158.8 579.2,158.8 579.8,158.8 580.4,158.8 581,158.8 581.6,158.8 582.2,158.8 582.8,158.8 583.4,158.8 584,158.8 584.6,158.8 585.2,158.8 585.8,158.8 586.4,158.8 587,158.8 587.6,158.8 588.2,158.8 588.8,158.8 589.4,158.8 590,158.8 590.6,158.8 591.2,158.8 591.8,158.8 592.4,158.8 593,158.8 593.6,158.8 594.2,158.8 594.8,158.79 595.4,158.79 596,158.79 596.6,158.79 597.2,158.79 597.8,158.78 598.4,158.78 599,158.78 599.6,158.77 600.2,158.76 600.8,158.76 601.4,158.75 602,158.74 602.6,158.72 603.2,158.71 603.8,158.69 604.4,158.67 605,158.64 605.6,158.61 606.2,158.58 606.8,158.54 607.4,158.49 608,158.44 608.6,158.38 609.2,158.31 609.8,158.23 610.4,158.14 611,158.04 611.6,157.93 612.2,157.81 612.8,157.67 613.4,157.52 614,157.35 614.6,157.16 615.2,156.96 615.8,156.74 616.4,156.5 617,156.24 617.6,155.96 618.2,155.66 618.8,155.34 619.4,155 620,154.64 620.6,154.26 621.2,153.86 621.8,153.45 622.4,153.02 623,152.57 623.6,152.12 624.2,151.66 624.8,151.18 625.4,150.71 626,150.23 626.6,149.76 627.2,149.29 627.8,148.83 628.4,148.39 629,147.96 629.6,147.55 630.2,147.16 630.8,146.8 631.4,146.47 632,146.17 632.6,145.91 633.2,145.68 633.8,145.5 634.4,145.36 635,145.26 635.6,145.21 636.2,145.2 636.8,145.24 637.4,145.32 638,145.45 638.6,145.62 639.2,145.83 639.8,146.08 640.4,146.36 641,146.68 641.6,147.04 642.2,147.41 642.8,147.82 643.4,148.24 644,148.68 644.6,149.14 645.2,149.6 645.8,150.08 646.4,150.55 647,151.03 647.6,151.5 648.2,151.97 648.8,152.42 649.4,152.87 650,153.3 650.6,153.72 651.2,154.13 651.8,154.51 652.4,154.88 653,155.22 653.6,155.55 654.2,155.86 654.8,156.15 655.4,156.41 656,156.66 656.6,156.89 657.2,157.1 657.8,157.29 658.4,157.46 659,157.62 659.6,157.76 660.2,157.89 660.8,158.01 661.4,158.11 662,158.2 662.6,158.28 663.2,158.36 663.8,158.42 664.4,158.47 665,158.52 665.6,158.56 666.2,158.6 666.8,158.63 667.4,158.66 668,158.68 668.6,158.7 669.2,158.72 669.8,158.73 670.4,158.74 671,158.75 671.6,158.76 672.2,158.77 672.8,158.77 673.4,158.78 674,158.78 674.6,158.79 675.2,158.79 675.8,158.79 675.8,158.8" fill="#9628ff" />
<polygon points="547.4,158.8 547.4,158.79 548,158.79 548.6,158.79 549.2,158.79 549.8,158.78 550.4,158.78 551,158.78 551.6,158.78 552.2,158.78 552.8,158.77 553.4,158.77 554,158.77 554.6,158.76 555.2,158.76 555.8,158.75 556.4,158.74 557,158.74 557.6,158.73 558.2,158.72 558.8,158.71 559.4,158.71 560,158.69 560.6,158.68 561.2,158.67 561.8,158.66 562.4,158.64 563,158.62 563.6,158.61 564.2,158.59 564.8,158.57 565.4,158.54 566,158.52 566.6,158.49 567.2,158.46 567.8,158.43 568.4,158.39 569,158.35 569.6,158.31 570.2,158.27 570.8,158.22 571.4,158.17 572,158.12 572.6,158.06 573.2,158 573.8,157.93 574.4,157.86 575,157.78 575.6,157.7 576.2,157.62 576.8,157.53 577.4,157.43 578,157.33 578.6,157.22 579.2,157.11 579.8,156.99 580.4,156.86 581,156.73 581.6,156.59 582.2,156.44 582.8,156.29 583.4,156.13 584,155.96 584.6,155.78 585.2,155.6 585.8,155.41 586.4,155.22 587,155.01 587.6,154.8 588.2,154.59 588.8,154.36 589.4,154.13 590,153.89 590.6,153.65 591.2,153.4 591.8,153.14 592.4,152.88 593,152.62 593.6,152.34 594.2,152.07 594.8,151.79 595.4,151.51 596,151.22 596.6,150.93 597.2,150.64 597.8,150.35 598.4,150.05 599,149.76 599.6,149.47 600.2,149.18 600.8,148.89 601.4,148.6 602,148.32 602.6,148.04 603.2,147.76 603.8,147.5 604.4,147.23 605,146.98 605.6,146.73 606.2,146.49 606.8,146.26 607.4,146.04 608,145.83 608.6,145.63 609.2,145.44 609.8,145.27 610.4,145.11 611,144.96 611.6,144.83 612.2,144.71 612.8,144.6 613.4,144.51 614,144.44 614.6,144.38 615.2,144.34 615.8,144.31 616.4,144.3 617,144.31 617.6,144.33 618.2,144.36 618.8,144.42 619.4,144.49 620,144.57 620.6,144.67 621.2,144.79 621.8,144.92 622.4,145.06 623,145.22 623.6,145.39 624.2,145.57 624.8,145.76 625.4,145.97 626,146.19 626.6,146.41 627.2,146.65 627.8,146.89 628.4,147.15 629,147.41 629.6,147.67 630.2,147.95 630.8,148.22 631.4,148.51 632,148.79 632.6,149.08 633.2,149.37 633.8,149.66 634.4,149.96 635,150.25 635.6,150.54 636.2,150.83 636.8,151.12 637.4,151.41 638,151.69 638.6,151.98 639.2,152.25 639.8,152.53 640.4,152.79 641,153.06 641.6,153.32 642.2,153.57 642.8,153.81 643.4,154.05 644,154.29 644.6,154.51 645.2,154.73 645.8,154.95 646.4,155.15 647,155.35 647.6,155.54 648.2,155.72 648.8,155.9 649.4,156.07 650,156.23 650.6,156.39 651.2,156.54 651.8,156.68 652.4,156.82 653,156.94 653.6,157.07 654.2,157.18 654.8,157.29 655.4,157.4 656,157.49 656.6,157.59 657.2,157.67 657.8,157.76 658.4,157.83 659,157.91 659.6,157.98 660.2,158.04 660.8,158.1 661.4,158.15 662,158.21 662.6,158.25 663.2,158.3 663.8,158.34 664.4,158.38 665,158.42 665.6,158.45 666.2,158.48 666.8,158.51 667.4,158.53 668,158.56 668.6,158.58 669.2,158.6 669.8,158.62 670.4,158.64 671,158.65 671.6,158.67 672.2,158.68 672.8,158.69 673.4,158.7 674,158.71 674.6,158.72 675.2,158.73 675.8,158.74 675.8,158.8" fill="#ff8f24" />
<polygon points="547.4,158.8 547.4,158.8 548,158.8 548.6,158.8 549.2,158.8 549.8,158.8 550.4,158.8 551,158.8 551.6,158.8 552.2,158.8 552.8,158.8 553.4,158.8 554,158.8 554.6,158.8 555.2,158.8 555.8,158.8 556.4,158.8 557,158.8 557.6,158.8 558.2,158.8 558.8,158.8 559.4,158.8 560,158.8 560.6,158.8 561.2,158.8 561.8,158.8 562.4,158.8 563,158.8 563.6,158.8 564.2,158.8 564.8,158.8 565.4,158.8 566,158.8 566.6,158.8 567.2,158.8 567.8,158.8 568.4,158.8 569,158.8 569.6,158.8 570.2,158.8 570.8,158.8 571.4,158.8 572,158.8 572.6,158.8 573.2,158.8 573.8,158.8 574.4,158.8 575,158.8 575.6,158.8 576.2,158.8 576.8,158.79 577.4,158.79 578,158.79 578.6,158.79 579.2,158.79 579.8,158.79 580.4,158.78 581,158.78 581.6,158.78 582.2,158.77 582.8,158.77 583.4,158.76 584,158.76 584.6,158.75 585.2,158.74 585.8,158.73 586.4,158.72 587,158.71 587.6,158.7 588.2,158.68 588.8,158.66 589.4,158.64 590,158.62 590.6,158.6 591.2,158.57 591.8,158.54 592.4,158.5 593,158.46 593.6,158.42 594.2,158.37 594.8,158.31 595.4,158.25 596,158.19 596.6,158.11 597.2,158.03 597.8,157.95 598.4,157.85 599,157.75 599.6,157.64 600.2,157.52 600.8,157.39 601.4,157.25 602,157.1 602.6,156.94 603.2,156.77 603.8,156.59 604.4,156.39 605,156.19 605.6,155.97 606.2,155.74 606.8,155.5 607.4,155.25 608,154.99 608.6,154.72 609.2,154.44 609.8,154.15 610.4,153.85 611,153.54 611.6,153.23 612.2,152.9 612.8,152.58 613.4,152.25 614,151.91 614.6,151.58 615.2,151.24 615.8,150.91 616.4,150.58 617,150.25 617.6,149.93 618.2,149.61 618.8,149.31 619.4,149.01 620,148.73 620.6,148.46 621.2,148.21 621.8,147.97 622.4,147.76 623,147.56 623.6,147.38 624.2,147.23 624.8,147.09 625.4,146.99 626,146.9 626.6,146.84 627.2,146.81 627.8,146.8 628.4,146.82 629,146.86 629.6,146.93 630.2,147.02 630.8,147.14 631.4,147.28 632,147.44 632.6,147.62 633.2,147.83 633.8,148.05 634.4,148.29 635,148.55 635.6,148.82 636.2,149.11 636.8,149.41 637.4,149.72 638,150.03 638.6,150.36 639.2,150.69 639.8,151.02 640.4,151.35 641,151.69 641.6,152.02 642.2,152.36 642.8,152.69 643.4,153.01 644,153.33 644.6,153.65 645.2,153.95 645.8,154.25 646.4,154.54 647,154.81 647.6,155.08 648.2,155.34 648.8,155.59 649.4,155.82 650,156.04 650.6,156.26 651.2,156.46 651.8,156.65 652.4,156.83 653,156.99 653.6,157.15 654.2,157.3 654.8,157.43 655.4,157.56 656,157.68 656.6,157.79 657.2,157.89 657.8,157.98 658.4,158.06 659,158.14 659.6,158.21 660.2,158.27 660.8,158.33 661.4,158.38 662,158.43 662.6,158.47 663.2,158.51 663.8,158.55 664.4,158.58 665,158.6 665.6,158.63 666.2,158.65 666.8,158.67 667.4,158.69 668,158.7 668.6,158.71 669.2,158.73 669.8,158.74 670.4,158.75 671,158.75 671.6,158.76 672.2,158.77 672.8,158.77 673.4,158.78 674,158.78 674.6,158.78 675.2,158.78 675.8,158.79 675.8,158.8" fill="#e8703a" />
<line x1="546.8" y1="159.8" x2="676.5" y2="159.8" stroke="#2a8a90" stroke-width="1.0" />
<polyline points="547.6,155.44 548.7,157.54 549.8,154.55 550.9,157.34 552,154.79 553.1,155.82 554.2,155.8 555.3,159.67 556.4,156.63 557.5,157.01 558.6,155.86 559.7,156.16 560.8,155.16 561.9,156.63 563,158.21 564.1,155.96 565.2,155.26 566.3,153.82 567.4,156.13 568.5,154.27 569.6,156.61 570.7,155.83 571.8,155.9 572.9,156.75 574,155.65 575.1,156.57 576.2,157.17 577.3,154.01 578.4,153.92 579.5,154.27 580.6,153.73 581.7,153.52 582.8,152.77 583.9,156.95 585,152.13 586.1,153.34 587.2,152.47 588.3,152.54 589.4,152.76 590.5,152.34 591.6,152.09 592.7,151.33 593.8,152.37 594.9,151.74 596,146.62 597.1,151.51 598.2,149.17 599.3,150.34 600.4,148.53 601.5,148.66 602.6,146.95 603.7,148.34 604.8,145 605.9,149.22 607,145.13 608.1,147.83 609.2,148.13 610.3,145.91 611.4,146.7 612.5,147.93 613.6,144.75 614.7,144.94 615.8,140.03 616.9,146.65 618,143.77 619.1,142.25 620.2,144.04 621.3,143.59 622.4,144.03 623.5,144.21 624.6,143.48 625.7,142.89 626.8,143.47 627.9,138.81 629,143.25 630.1,143.42 631.2,143.03 632.3,141.94 633.4,140.85 634.5,143.44 635.6,142.97 636.7,144.21 637.8,144.42 638.9,146.13 640,146.07 641.1,146.93 642.2,148.12 643.3,143.9 644.4,149.04 645.5,150.92 646.6,151.7 647.7,153.16 648.8,151.79 649.9,151.7 651,153.53 652.1,154.15 653.2,154.05 654.3,154.84 655.4,152.82 656.5,156.34 657.6,153.19 658.7,153.75 659.8,158.1 660.9,156.52 662,157.41 663.1,153.84 664.2,159.41 665.3,152.03 666.4,158.3 667.5,156.85 668.6,153.84 669.7,155.49 670.8,155.97 671.9,157.69 673,157.14 674.1,153.65 675.2,157.81" stroke="#111" stroke-width="1.2" fill="none" stroke-linejoin="round" />
<polyline points="547.4,158.65 548,158.64 548.6,158.63 549.2,158.61 549.8,158.6 550.4,158.59 551,158.57 551.6,158.56 552.2,158.54 552.8,158.52 553.4,158.51 554,158.49 554.6,158.47 555.2,158.44 555.8,158.42 556.4,158.4 557,158.37 557.6,158.35 558.2,158.32 558.8,158.29 559.4,158.26 560,158.22 560.6,158.19 561.2,158.15 561.8,158.11 562.4,158.07 563,158.03 563.6,157.99 564.2,157.94 564.8,157.89 565.4,157.84 566,157.79 566.6,157.74 567.2,157.68 567.8,157.62 568.4,157.55 569,157.49 569.6,157.42 570.2,157.35 570.8,157.28 571.4,157.2 572,157.12 572.6,157.04 573.2,156.95 573.8,156.86 574.4,156.77 575,156.67 575.6,156.57 576.2,156.47 576.8,156.36 577.4,156.25 578,156.13 578.6,156.02 579.2,155.89 579.8,155.77 580.4,155.64 581,155.51 581.6,155.37 582.2,155.23 582.8,155.08 583.4,154.93 584,154.78 584.6,154.62 585.2,154.46 585.8,154.29 586.4,154.12 587,153.95 587.6,153.77 588.2,153.59 588.8,153.4 589.4,153.22 590,153.02 590.6,152.83 591.2,152.63 591.8,152.42 592.4,152.21 593,152 593.6,151.79 594.2,151.57 594.8,151.35 595.4,151.13 596,150.9 596.6,150.67 597.2,150.44 597.8,150.21 598.4,149.97 599,149.73 599.6,149.49 600.2,149.25 600.8,149.01 601.4,148.77 602,148.52 602.6,148.28 603.2,148.03 603.8,147.78 604.4,147.54 605,147.29 605.6,147.04 606.2,146.8 606.8,146.55 607.4,146.31 608,146.07 608.6,145.83 609.2,145.59 609.8,145.35 610.4,145.12 611,144.89 611.6,144.66 612.2,144.44 612.8,144.22 613.4,144 614,143.79 614.6,143.58 615.2,143.38 615.8,143.18 616.4,142.99 617,142.8 617.6,142.62 618.2,142.45 618.8,142.28 619.4,142.11 620,141.96 620.6,141.81 621.2,141.67 621.8,141.53 622.4,141.41 623,141.29 623.6,141.17 624.2,141.07 624.8,140.98 625.4,140.89 626,140.81 626.6,140.74 627.2,140.68 627.8,140.63 628.4,140.58 629,140.55 629.6,140.52 630.2,140.51 630.8,140.5 631.4,140.51 632,140.56 632.6,140.65 633.2,140.78 633.8,140.95 634.4,141.16 635,141.41 635.6,141.7 636.2,142.02 636.8,142.37 637.4,142.75 638,143.16 638.6,143.59 639.2,144.04 639.8,144.52 640.4,145.01 641,145.51 641.6,146.03 642.2,146.55 642.8,147.08 643.4,147.61 644,148.14 644.6,148.67 645.2,149.2 645.8,149.72 646.4,150.23 647,150.73 647.6,151.22 648.2,151.7 648.8,152.16 649.4,152.61 650,153.04 650.6,153.45 651.2,153.84 651.8,154.22 652.4,154.57 653,154.91 653.6,155.23 654.2,155.53 654.8,155.81 655.4,156.08 656,156.32 656.6,156.55 657.2,156.77 657.8,156.96 658.4,157.14 659,157.31 659.6,157.46 660.2,157.6 660.8,157.73 661.4,157.85 662,157.95 662.6,158.05 663.2,158.14 663.8,158.21 664.4,158.28 665,158.35 665.6,158.4 666.2,158.45 666.8,158.5 667.4,158.54 668,158.57 668.6,158.6 669.2,158.63 669.8,158.65 670.4,158.67 671,158.69 671.6,158.71 672.2,158.72 672.8,158.73 673.4,158.74 674,158.75 674.6,158.76 675.2,158.76 675.8,158.77" stroke="#1a1aff" stroke-width="1.5" fill="none" stroke-linejoin="round" />
<line x1="546.8" y1="158.8" x2="676.5" y2="158.8" stroke="#1a1aff" stroke-width="1.6" />
<text x="574.7" y="146.6" font-size="8.6" font-weight="normal" text-anchor="start" fill="#111" textLength="23.7" lengthAdjust="spacingAndGlyphs">67.1%</text>
<text x="650.1" y="150.3" font-size="8.6" font-weight="normal" text-anchor="start" fill="#111" textLength="23.5" lengthAdjust="spacingAndGlyphs">32.9%</text>
<text x="549.3" y="167.4" font-size="8.6" font-weight="normal" text-anchor="start" fill="#111" textLength="26.2" lengthAdjust="spacingAndGlyphs">20 min</text>
<rect x="546.8" y="5.8" width="129.7" height="165" fill="none" stroke="#8c8c8c" stroke-width="1.3" />
<line x1="546.8" y1="170.8" x2="546.8" y2="167.3" stroke="#8c8c8c" stroke-width="1" />
<text x="546.8" y="184" font-size="11" font-weight="normal" text-anchor="middle" fill="#111" >660</text>
<line x1="611.65" y1="170.8" x2="611.65" y2="167.3" stroke="#8c8c8c" stroke-width="1" />
<text x="611.65" y="184" font-size="11" font-weight="normal" text-anchor="middle" fill="#111" >655</text>
<line x1="676.5" y1="170.8" x2="676.5" y2="167.3" stroke="#8c8c8c" stroke-width="1" />
<text x="676.5" y="184" font-size="11" font-weight="normal" text-anchor="middle" fill="#111" >650</text>
<line x1="579.22" y1="170.8" x2="579.22" y2="168.6" stroke="#8c8c8c" stroke-width="1" />
<line x1="644.08" y1="170.8" x2="644.08" y2="168.6" stroke="#8c8c8c" stroke-width="1" />
<text x="600.2" y="15.6" font-size="8.8" font-weight="bold" text-anchor="start" fill="#000" ><tspan dy="0">Mn</tspan><tspan dy="-4.2" font-size="6">2+</tspan></text>
<text x="634.7" y="15.6" font-size="8.8" font-weight="bold" text-anchor="start" fill="#000" ><tspan dy="0">Mn</tspan><tspan dy="-4.2" font-size="6">3+</tspan></text>
<line x1="607.1" y1="19.2" x2="608.95" y2="27.68" stroke="#222" stroke-width="0.7" />
<polygon points="609.7,31.1 607.59,27.98 610.32,27.38" fill="#222" />
<line x1="639.6" y1="19.2" x2="638.28" y2="27.15" stroke="#222" stroke-width="0.7" />
<polygon points="637.7,30.6 636.89,26.92 639.66,27.38" fill="#222" />
<text x="536.2" y="128.9" font-size="11" font-weight="bold" text-anchor="start" fill="#000" transform="rotate(-90 536.2 128.9)" textLength="74.7" lengthAdjust="spacingAndGlyphs">Intensity (a.u.)</text>
<text x="561.2" y="197.8" font-size="11" font-weight="bold" text-anchor="start" fill="#000" textLength="112.6" lengthAdjust="spacingAndGlyphs">Binding energy (eV)</text>
<text x="512.6" y="16" font-size="21.5" font-weight="bold" text-anchor="start" fill="#000" >c</text>
<line x1="64.5" y1="236" x2="64.5" y2="358" stroke="#33dd33" stroke-width="1.1" stroke-dasharray="2.2 2.2"/>
<line x1="104.6" y1="250" x2="104.6" y2="361" stroke="#33dd33" stroke-width="1.1" stroke-dasharray="2.2 2.2"/>
<polyline points="39.5,253.2 41,260 42,264.6 44,266 46,265 48,267.5 50,265 52,268 54,264 55.5,268.5 57,263 58.5,266 60,261.5 61,258 62.5,250 63.9,245.6 65,248 66,249 67,252 68.5,255 70,258.4 71.5,256 73,259 74.5,256 75.3,257 76.3,253 77.3,252 78.4,258.4 79.3,250 80.4,240.8 81.2,243 82.1,239.8" stroke="#1414ff" stroke-width="1.2" fill="none" stroke-linejoin="round" />
<polyline points="84,255.3 86,257 88,256.5 90,259 92,258 94,260 96,259.5 97,261.5 99,260.5 101,262.5 102,263.5 103,258 104.6,250.5 106,256 106.9,263.5 108.5,263 110,264.5 112,263.5 113.5,267 114.5,268.3 116,265 117.5,266.5 119,263 120.5,265 122,262 123.5,264 125.9,261.5" stroke="#1414ff" stroke-width="1.2" fill="none" stroke-linejoin="round" />
<polyline points="39.5,315 41,325 42,322 43,320 44.5,322 46,320.5 47.5,322.5 49,321 50.5,323 52,322 53.7,329.4 55.4,322 57,325.5 58.8,309.8 60.5,309 62,309 63.2,290 64,280.5 64.8,290 65.3,297 66.5,299 68,315 70,316 72,314 73.4,322.6 75,316 77,312 78.5,305 80,306 81,295 82.4,292.8" stroke="#000" stroke-width="1.2" fill="none" stroke-linejoin="round" />
<polyline points="84.3,311.5 86,309 89,309 92,308 94,310.4 97,306.5 100,305.7 102,303 103.5,295 104.5,286.9 105.5,294 106,299 108,302.7 111,302 113,300 115,301.5 117,299 119,301.5 120.5,294 123,289 124.5,283.5 126.3,281.5" stroke="#000" stroke-width="1.2" fill="none" stroke-linejoin="round" />
<polyline points="39.5,360 42,359 44,362 46,364.5 48,363 50,366 52,368.7 54,365 56,362 58,358 60,356.5 62,355.7 63.5,332.5 64.5,331.8 66,340 67,343.5 68,350 70,356.5 72,355 74,357 75.5,351.8 77,353.5 78.5,346 80,340.5 82.4,333" stroke="#ff0d0d" stroke-width="1.2" fill="none" stroke-linejoin="round" />
<polyline points="84.3,359.4 86,355 88,357 92,356.5 96,357.5 98,359 101,355.7 103.5,350 104.5,344.5 106,350 107.5,359 109,361 111,359 113,362.5 115,358 117,363.5 119,351 121,353.5 123,348 126.3,344" stroke="#ff0d0d" stroke-width="1.2" fill="none" stroke-linejoin="round" />
<rect x="39.5" y="218.3" width="87" height="163.6" fill="none" stroke="#555" stroke-width="1" />
<line x1="81.2" y1="220.9" x2="82.8" y2="214.9" stroke="#333" stroke-width="0.9" />
<line x1="83.2" y1="220.9" x2="84.7" y2="214.9" stroke="#333" stroke-width="0.9" />
<line x1="81.2" y1="384.5" x2="82.8" y2="378.5" stroke="#333" stroke-width="0.9" />
<line x1="83.2" y1="384.5" x2="84.7" y2="378.5" stroke="#333" stroke-width="0.9" />
<line x1="39.9" y1="381.9" x2="39.9" y2="384.9" stroke="#555" stroke-width="0.9" />
<line x1="64.4" y1="381.9" x2="64.4" y2="384.9" stroke="#555" stroke-width="0.9" />
<line x1="104.3" y1="381.9" x2="104.3" y2="384.9" stroke="#555" stroke-width="0.9" />
<line x1="126.1" y1="381.9" x2="126.1" y2="384.9" stroke="#555" stroke-width="0.9" />
<line x1="52.3" y1="381.9" x2="52.3" y2="383.9" stroke="#555" stroke-width="0.9" />
<line x1="76.9" y1="381.9" x2="76.9" y2="383.9" stroke="#555" stroke-width="0.9" />
<line x1="94.6" y1="381.9" x2="94.6" y2="383.9" stroke="#555" stroke-width="0.9" />
<line x1="115.4" y1="381.9" x2="115.4" y2="383.9" stroke="#555" stroke-width="0.9" />
<text x="39.6" y="395" font-size="9" font-weight="normal" text-anchor="middle" fill="#111" >560</text>
<text x="64.7" y="395" font-size="9" font-weight="normal" text-anchor="middle" fill="#111" >630</text>
<text x="104.5" y="395" font-size="9" font-weight="normal" text-anchor="middle" fill="#111" >950</text>
<text x="126.4" y="395" font-size="9" font-weight="normal" text-anchor="middle" fill="#111" >1000</text>
<line x1="51" y1="226.32" x2="54.8" y2="226.32" stroke="#444" stroke-width="0.9" />
<line x1="51" y1="228.1" x2="54.8" y2="228.1" stroke="#444" stroke-width="0.9" />
<line x1="51" y1="229.88" x2="54.8" y2="229.88" stroke="#444" stroke-width="0.9" />
<text x="55.7" y="231.6" font-size="9.21787709497206" font-weight="normal" text-anchor="start" fill="#111" textLength="14.4" lengthAdjust="spacingAndGlyphs">C-H</text>
<line x1="97.1" y1="240.32" x2="100.9" y2="240.32" stroke="#444" stroke-width="0.9" />
<line x1="97.1" y1="242.1" x2="100.9" y2="242.1" stroke="#444" stroke-width="0.9" />
<line x1="97.1" y1="243.88" x2="100.9" y2="243.88" stroke="#444" stroke-width="0.9" />
<text x="101.7" y="245.6" font-size="9.21787709497206" font-weight="normal" text-anchor="start" fill="#111" textLength="14.4" lengthAdjust="spacingAndGlyphs">C-H</text>
<text x="68.6" y="372.8" font-size="8.5" font-weight="normal" text-anchor="start" fill="#000" transform="rotate(-90 68.6 372.8)" textLength="12.8" lengthAdjust="spacingAndGlyphs">628</text>
<text x="108.2" y="376.3" font-size="8.5" font-weight="normal" text-anchor="start" fill="#000" transform="rotate(-90 108.2 376.3)" textLength="12" lengthAdjust="spacingAndGlyphs">950</text>
<line x1="160.5" y1="272" x2="160.5" y2="358" stroke="#33dd33" stroke-width="1.1" stroke-dasharray="2.2 2.2"/>
<line x1="175.8" y1="272" x2="175.8" y2="358" stroke="#33dd33" stroke-width="1.1" stroke-dasharray="2.2 2.2"/>
<line x1="189.9" y1="270" x2="189.9" y2="358" stroke="#33dd33" stroke-width="1.1" stroke-dasharray="2.2 2.2"/>
<line x1="225.8" y1="249" x2="225.8" y2="360" stroke="#33dd33" stroke-width="1.1" stroke-dasharray="2.2 2.2"/>
<line x1="230.9" y1="249" x2="230.9" y2="360" stroke="#33dd33" stroke-width="1.1" stroke-dasharray="2.2 2.2"/>
<polyline points="152.3,274.33 153.15,274.7 154,274.26 155,274.01 156,274.5 157,273.7 158,273.15 159.5,272.79 161,274.09 162,274.53 163,275.84 164,275.18 165,275.26 166.5,276 168,278.95 169,276.22 170,275.73 171,276.45 172,276.15 173,275.03 174,274.78 175,275.04 176,275.44 177,274.88 178,275.22 179,275.92 180,275.78 181,276.22 182,275.69 183,275 184,273.73 185,272.73 186,271.72 187,270.96 188,270.19 189,269.32 190.5,270.34 192,271.06 193.5,273.64 195,275.19 196,276.49 197,276.86 198,276.29 199,276.67 200,277.22 201,277.38 202,277.77 203,277.42 204,277.76 205,277.54 206,277.1 206.85,277.44 207.7,277.78 208.55,277.8 209.4,277.5" stroke="#1414ff" stroke-width="1.3" fill="none" stroke-linejoin="round" />
<polygon points="211.9,281.6 213.9,279.6 215.9,278 217.8,277 219.6,276.2 222.1,273.6 222.1,276 219.6,279.5 218.5,283 217.2,285 215.9,289.6 214.5,290.5 213.2,293 211.9,294.4" fill="#1414ff" />
<polyline points="212,288 214,286.5 216.6,281 219,278.5 221,275.5 222,273 223.2,268 224,260 225,254.5 226,256 227.1,261.8 228.2,257 229.2,251.5 230,250.2 231,253 231.9,263.3 233,272 233.8,277.1 236,278.2" stroke="#1414ff" stroke-width="1.4" fill="none" stroke-linejoin="round" />
<polyline points="236,279.87 236.45,279.84 236.9,277.17 237.35,277.25 237.8,279.51 238.25,279.21 238.7,279.01 239.15,277.92 239.6,278.82 240.05,278.82 240.5,278.74 240.95,277.48 241.4,278.29 241.85,278.18 242.3,279.17 242.75,279.98 243.2,279.85 243.65,278.63 244.1,278.33 244.55,277.8 245,277.11 245.45,276.96 245.9,278.16 246.36,277.6 246.81,277.66 247.26,279.08 247.71,277.86 248.17,277.85 248.62,276.76 249.07,276 249.52,276.78 249.98,276.1 250.43,277.1 250.88,278.45 251.33,277.36 251.79,275.76 252.24,277.78 252.69,277.37 253.14,277.06 253.6,277.46 254.05,276.91 254.5,276.87 254.96,275.44 255.42,277.19 255.88,277.01 256.33,274.48 256.79,276.14 257.25,275.9 257.71,275.01 258.17,275.09 258.62,274.85 259.08,276.02 259.54,274.63 260,275.49 260.47,273.59 260.94,274.71 261.41,274.29 261.88,272.5 262.35,272.35 262.82,272.94 263.29,271.88 263.76,270.7 264.23,269.44 264.7,269.27 265.35,271.15 266,270.3 266.5,273.02 267,271.6 267.5,274.03 267.98,272.98 268.45,275.67 268.92,275.67 269.4,275.8" stroke="#1414ff" stroke-width="1.2" fill="none" stroke-linejoin="round" />
<polyline points="152.3,306.99 153.15,306.89 154,306.4 155,306.83 156,307.1 157,305.9 158,305.11 159.5,305.27 161,306.81 162,307.29 163,308.4 164,307.73 165,307.77 166.5,308.98 168,311.61 169,308.22 170,308.61 171,308.79 172,308.27 173,308.19 174,307.89 175,307.15 176,307.71 177,307.57 178,307.84 179,308.12 180,309.04 181,308.98 182,308.43 183,307.8 184,306.67 185,305.84 186,304.42 187,303.74 188,302.86 189,302.65 190.5,302.8 192,303.18 193.5,305.71 195,307.77 196,308.87 197,308.95 198,309.27 199,309.17 200,309.51 201,309.58 202,309.71 203,310.07 204,310 205,310.19 206,309.95 206.85,310.19 207.7,310.19 208.55,310.34 209.4,310" stroke="#000" stroke-width="1.3" fill="none" stroke-linejoin="round" />
<polygon points="211.9,318 213.9,316 215.9,314.4 217.8,313.4 219.6,312.6 222.1,310 222.1,312.4 219.6,315.9 218.5,319.4 217.2,321.4 215.9,326 214.5,326.9 213.2,329.4 211.9,330.8" fill="#000" />
<polyline points="212,324.5 214,323 216.6,317.5 219,315 221,312 222,309.5 223.2,304.5 224,296.5 225,291 226,292.5 227.1,298.3 228.2,293.5 229.2,288 230,286.7 231,289.5 231.9,299.8 233,308.5 233.8,313.6 236,314.7" stroke="#000" stroke-width="1.4" fill="none" stroke-linejoin="round" />
<polyline points="236,314.16 236.45,313.79 236.9,314.61 237.35,313.93 237.8,313.69 238.25,314.62 238.7,316.07 239.15,315.74 239.6,315.64 240.05,314.12 240.5,315 240.95,314.27 241.4,313.98 241.85,313.8 242.3,314.1 242.75,316.1 243.2,315.82 243.65,315.76 244.1,315.74 244.55,314.04 245,314.37 245.45,315.14 245.9,315.31 246.36,315.54 246.81,315.49 247.26,313.15 247.71,314.48 248.17,314.55 248.62,313.96 249.07,312.93 249.52,313.64 249.98,312.44 250.43,314.69 250.88,314.38 251.33,313.37 251.79,312.55 252.24,314.14 252.69,313.08 253.14,313.83 253.6,313.61 254.05,312.54 254.5,312.16 254.96,312.55 255.42,311.96 255.88,311.08 256.33,311.35 256.79,312.65 257.25,310.37 257.71,310.25 258.17,311.75 258.62,310.66 259.08,311.25 259.54,310.94 260,310.46 260.47,312.5 260.94,310.47 261.41,311.29 261.88,310.91 262.35,312.32 262.82,311.53 263.29,311.97 263.76,313.27 264.23,312.29 264.7,313.16 265.35,314.88 266,313.38 266.5,313.77 267,314.74 267.5,316.74 267.98,317.07 268.45,316.76 268.92,317.78 269.4,319" stroke="#000" stroke-width="1.2" fill="none" stroke-linejoin="round" />
<polyline points="152.3,344.27 153.15,344 154,343.68 155,344.02 156,344.14 157,343.5 158,342.22 159.5,341.98 161,344.27 162,344.59 163,345.24 164,344.52 165,344.48 166.5,345.85 168,348.53 169,345.54 170,345.21 171,345.33 172,345.12 173,345.25 174,344.91 175,344.3 176,344.68 177,344.28 178,345.07 179,345.28 180,345.45 181,346.22 182,345.08 183,344.33 184,343.79 185,342.72 186,341.37 187,340.78 188,339.92 189,339.41 190.5,339.32 192,340.76 193.5,343.11 195,345.28 196,345.74 197,345.88 198,346.08 199,346.13 200,346.29 201,346.41 202,346.71 203,347.06 204,346.64 205,346.97 206,346.7 206.85,346.74 207.7,347.09 208.55,346.94 209.4,347" stroke="#ff0d0d" stroke-width="1.3" fill="none" stroke-linejoin="round" />
<polygon points="211.9,350.6 213.9,348.6 215.9,347 217.8,346 219.6,345.2 222.1,342.6 222.1,345 219.6,348.5 218.5,352 217.2,354 215.9,358.6 214.5,359.5 213.2,362 211.9,363.4" fill="#ff0d0d" />
<polyline points="212,357.5 214,356 216.6,350.5 219,348 221,345 222,342.5 223.2,337.5 224,329.5 225,324 226,325.5 227.1,331.3 228.2,326.5 229.2,321 230,319.7 231,322.5 231.9,332.8 233,341.5 233.8,346.6 236,347.7" stroke="#ff0d0d" stroke-width="1.4" fill="none" stroke-linejoin="round" />
<polyline points="236,347.8 236.45,347.87 236.9,347.06 237.35,346.53 237.8,345.9 238.25,347.49 238.7,347.03 239.15,347.72 239.6,346.8 240.05,347.75 240.5,346.55 240.95,347.82 241.4,347.65 241.85,346.89 242.3,347.19 242.75,347.54 243.2,346.36 243.65,347.23 244.1,347.83 244.55,346.54 245,347.83 245.45,347.43 245.9,347.69 246.36,346.35 246.81,345.65 247.26,347.23 247.71,347.12 248.17,346.14 248.62,345.17 249.07,345.3 249.52,346.23 249.98,345.29 250.43,346.75 250.88,345.76 251.33,344.72 251.79,345.69 252.24,344.86 252.69,346.11 253.14,345.94 253.6,344.87 254.05,345.07 254.5,345.07 254.96,345.21 255.42,345.49 255.88,343.09 256.33,343.77 256.79,344.22 257.25,343.38 257.71,343.94 258.17,342.62 258.62,344.39 259.08,343.41 259.54,342.31 260,343.49 260.47,342.59 260.94,342.25 261.41,342.88 261.88,341.99 262.35,342.1 262.82,343.62 263.29,343.16 263.76,341.45 264.23,343.23 264.7,341.34 265.35,342.85 266,344.97 266.5,344.79 267,344.53 267.5,345.21 267.98,345.98 268.45,346.1 268.92,348.95 269.4,348.5" stroke="#ff0d0d" stroke-width="1.2" fill="none" stroke-linejoin="round" />
<rect x="152.4" y="216.4" width="117.2" height="165.5" fill="none" stroke="#555" stroke-width="1" />
<line x1="209.2" y1="219" x2="210.8" y2="213" stroke="#333" stroke-width="0.9" />
<line x1="211.2" y1="219" x2="212.7" y2="213" stroke="#333" stroke-width="0.9" />
<line x1="209.2" y1="384.5" x2="210.8" y2="378.5" stroke="#333" stroke-width="0.9" />
<line x1="211.2" y1="384.5" x2="212.7" y2="378.5" stroke="#333" stroke-width="0.9" />
<line x1="152.4" y1="381.9" x2="152.4" y2="384.9" stroke="#555" stroke-width="0.9" />
<line x1="175.7" y1="381.9" x2="175.7" y2="384.9" stroke="#555" stroke-width="0.9" />
<line x1="198.5" y1="381.9" x2="198.5" y2="384.9" stroke="#555" stroke-width="0.9" />
<line x1="161.1" y1="381.9" x2="161.1" y2="383.9" stroke="#555" stroke-width="0.9" />
<line x1="187.2" y1="381.9" x2="187.2" y2="383.9" stroke="#555" stroke-width="0.9" />
<line x1="228.4" y1="381.9" x2="228.4" y2="384.9" stroke="#555" stroke-width="0.9" />
<line x1="252.3" y1="381.9" x2="252.3" y2="384.9" stroke="#555" stroke-width="0.9" />
<line x1="216.5" y1="381.9" x2="216.5" y2="383.9" stroke="#555" stroke-width="0.9" />
<line x1="240.4" y1="381.9" x2="240.4" y2="383.9" stroke="#555" stroke-width="0.9" />
<line x1="264.2" y1="381.9" x2="264.2" y2="383.9" stroke="#555" stroke-width="0.9" />
<text x="152.2" y="395" font-size="9" font-weight="normal" text-anchor="middle" fill="#111" >1400</text>
<text x="175.5" y="395" font-size="9" font-weight="normal" text-anchor="middle" fill="#111" >1600</text>
<text x="198.3" y="395" font-size="9" font-weight="normal" text-anchor="middle" fill="#111" >1800</text>
<text x="228.6" y="395" font-size="9" font-weight="normal" text-anchor="middle" fill="#111" >3300</text>
<text x="252.3" y="395" font-size="9" font-weight="normal" text-anchor="middle" fill="#111" >3600</text>
<text x="166.8" y="251.7" font-size="9" font-weight="normal" text-anchor="start" fill="#000" textLength="16.4" lengthAdjust="spacingAndGlyphs">C=C</text>
<line x1="171.9" y1="253.8" x2="162.57" y2="269.07" stroke="#222" stroke-width="0.6" />
<polygon points="160.9,271.8 161.46,268.39 163.68,269.75" fill="#222" />
<line x1="176.5" y1="253.8" x2="175.67" y2="269.2" stroke="#222" stroke-width="0.6" />
<polygon points="175.5,272.4 174.37,269.13 176.97,269.27" fill="#222" />
<line x1="179.9" y1="253.8" x2="188.27" y2="265.78" stroke="#222" stroke-width="0.6" />
<polygon points="190.1,268.4 187.2,266.52 189.33,265.03" fill="#222" />
<line x1="215.3" y1="227.34" x2="219.1" y2="227.34" stroke="#444" stroke-width="0.9" />
<line x1="215.3" y1="229.15" x2="219.1" y2="229.15" stroke="#444" stroke-width="0.9" />
<line x1="215.3" y1="230.96" x2="219.1" y2="230.96" stroke="#444" stroke-width="0.9" />
<text x="220.5" y="232.7" font-size="9.357541899441324" font-weight="normal" text-anchor="start" fill="#111" textLength="14.5" lengthAdjust="spacingAndGlyphs">C-H</text>
<line x1="225.5" y1="236.5" x2="225.64" y2="244.8" stroke="#222" stroke-width="0.6" />
<polygon points="225.7,248 224.34,244.82 226.94,244.78" fill="#222" />
<line x1="227.8" y1="236.5" x2="229.95" y2="243.44" stroke="#222" stroke-width="0.6" />
<polygon points="230.9,246.5 228.71,243.83 231.19,243.06" fill="#222" />
<text x="165" y="378.6" font-size="8.3" font-weight="normal" text-anchor="start" fill="#000" transform="rotate(-90 165 378.6)" textLength="17" lengthAdjust="spacingAndGlyphs">1456</text>
<text x="179.8" y="376.9" font-size="8.3" font-weight="normal" text-anchor="start" fill="#000" transform="rotate(-90 179.8 376.9)" textLength="15.9" lengthAdjust="spacingAndGlyphs">1585</text>
<text x="193.3" y="370.7" font-size="8.3" font-weight="normal" text-anchor="start" fill="#000" transform="rotate(-90 193.3 370.7)" textLength="16.7" lengthAdjust="spacingAndGlyphs">1708</text>
<text x="227.7" y="378" font-size="8.3" font-weight="normal" text-anchor="start" fill="#000" transform="rotate(-90 227.7 378)" textLength="16.4" lengthAdjust="spacingAndGlyphs">3265</text>
<text x="235.7" y="371.6" font-size="8.3" font-weight="normal" text-anchor="start" fill="#000" transform="rotate(-90 235.7 371.6)" textLength="16.6" lengthAdjust="spacingAndGlyphs">3320</text>
<text x="29" y="351.8" font-size="11" font-weight="bold" text-anchor="start" fill="#000" transform="rotate(-90 29 351.8)" textLength="89.1" lengthAdjust="spacingAndGlyphs">Absorbance (a.u.)</text>
<text x="91.9" y="409.6" font-size="12" font-weight="bold" text-anchor="start" fill="#000" textLength="108.4" lengthAdjust="spacingAndGlyphs"><tspan dy="0">Wavenumber (cm</tspan><tspan dy="-4.5" font-size="8.16">-1</tspan><tspan dy="4.5">)</tspan></text>
<text x="-0.5" y="229.5" font-size="21.5" font-weight="bold" text-anchor="start" fill="#000" >d</text>
<line x1="330" y1="232" x2="330" y2="337" stroke="#33dd33" stroke-width="1.1" stroke-dasharray="2.2 2.2"/>
<line x1="348.7" y1="253" x2="348.7" y2="342" stroke="#f5a050" stroke-width="1.1" stroke-dasharray="2.2 2.2"/>
<line x1="384.8" y1="270" x2="384.8" y2="345" stroke="#f5a050" stroke-width="1.1" stroke-dasharray="2.2 2.2"/>
<line x1="317.9" y1="221.4" x2="399.6" y2="280.6" stroke="#000" stroke-width="1.1" />
<line x1="317.9" y1="266.4" x2="399.6" y2="324.7" stroke="#000" stroke-width="1.1" />
<line x1="317.9" y1="310.3" x2="399.6" y2="368.1" stroke="#000" stroke-width="1.1" />
<line x1="348.5" y1="252.3" x2="384.2" y2="289.9" stroke="#1414ff" stroke-width="0.9" />
<line x1="348.5" y1="334" x2="383.1" y2="361.5" stroke="#ff0d0d" stroke-width="0.9" />
<line x1="330" y1="319.6" x2="374" y2="352" stroke="#ff0d0d" stroke-width="0.9" />
<path d="M317.90,274.20 C318.25,272.23 319.15,266.80 320.00,262.40 C320.85,258.00 322.00,252.20 323.00,247.80 C324.00,243.40 325.17,238.67 326.00,236.00 C326.83,233.33 327.32,232.80 328.00,231.80 C328.68,230.80 329.43,229.77 330.10,230.00 C330.77,230.23 331.18,231.00 332.00,233.20 C332.82,235.40 334.00,240.02 335.00,243.20 C336.00,246.38 337.08,250.17 338.00,252.30 C338.92,254.43 339.75,255.38 340.50,256.00 C341.25,256.62 341.75,256.30 342.50,256.00 C343.25,255.70 344.00,254.82 345.00,254.20 C346.00,253.58 347.33,252.15 348.50,252.30 C349.67,252.45 350.58,253.42 352.00,255.10 C353.42,256.78 355.33,259.97 357.00,262.40 C358.67,264.83 360.33,267.27 362.00,269.70 C363.67,272.13 365.50,275.03 367.00,277.00 C368.50,278.97 369.67,280.45 371.00,281.50 C372.33,282.55 373.83,283.75 375.00,283.30 C376.17,282.85 377.00,280.62 378.00,278.80 C379.00,276.98 380.00,273.92 381.00,272.40 C382.00,270.88 383.00,269.55 384.00,269.70 C385.00,269.85 386.00,271.63 387.00,273.30 C388.00,274.97 389.00,277.73 390.00,279.70 C391.00,281.67 392.00,282.97 393.00,285.10 C394.00,287.23 394.90,289.55 396.00,292.50 C397.10,295.45 399.00,301.08 399.60,302.80" stroke="#1414ff" stroke-width="1.9" fill="none"/>
<path d="M317.90,323.80 C318.25,320.83 319.15,311.63 320.00,306.00 C320.85,300.37 322.00,294.50 323.00,290.00 C324.00,285.50 325.17,281.42 326.00,279.00 C326.83,276.58 327.35,276.23 328.00,275.50 C328.65,274.77 329.23,274.35 329.90,274.60 C330.57,274.85 331.32,275.60 332.00,277.00 C332.68,278.40 333.33,280.83 334.00,283.00 C334.67,285.17 335.17,287.92 336.00,290.00 C336.83,292.08 338.17,294.50 339.00,295.50 C339.83,296.50 340.17,296.58 341.00,296.00 C341.83,295.42 342.75,293.30 344.00,292.00 C345.25,290.70 347.17,288.28 348.50,288.20 C349.83,288.12 350.92,290.37 352.00,291.50 C353.08,292.63 353.33,292.75 355.00,295.00 C356.67,297.25 359.83,301.83 362.00,305.00 C364.17,308.17 366.33,311.50 368.00,314.00 C369.67,316.50 370.75,318.68 372.00,320.00 C373.25,321.32 374.50,322.07 375.50,321.90 C376.50,321.73 377.25,320.48 378.00,319.00 C378.75,317.52 379.33,314.92 380.00,313.00 C380.67,311.08 381.28,308.75 382.00,307.50 C382.72,306.25 383.63,305.42 384.30,305.50 C384.97,305.58 385.38,306.92 386.00,308.00 C386.62,309.08 387.00,309.17 388.00,312.00 C389.00,314.83 390.67,321.00 392.00,325.00 C393.33,329.00 394.73,332.87 396.00,336.00 C397.27,339.13 399.00,342.50 399.60,343.80" stroke="#000" stroke-width="1.9" fill="none"/>
<path d="M317.90,355.70 C318.42,353.30 319.82,345.77 321.00,341.30 C322.18,336.83 323.83,332.20 325.00,328.90 C326.17,325.60 327.17,323.05 328.00,321.50 C328.83,319.95 329.33,319.35 330.00,319.60 C330.67,319.85 331.33,321.10 332.00,323.00 C332.67,324.90 333.17,328.63 334.00,331.00 C334.83,333.37 336.00,336.00 337.00,337.20 C338.00,338.40 338.67,338.55 340.00,338.20 C341.33,337.85 343.58,335.80 345.00,335.10 C346.42,334.40 346.83,333.13 348.50,334.00 C350.17,334.87 352.75,338.23 355.00,340.30 C357.25,342.37 359.50,344.35 362.00,346.40 C364.50,348.45 367.83,351.12 370.00,352.60 C372.17,354.08 373.67,355.48 375.00,355.30 C376.33,355.12 377.17,352.80 378.00,351.50 C378.83,350.20 379.00,348.85 380.00,347.50 C381.00,346.15 382.83,343.73 384.00,343.40 C385.17,343.07 386.00,344.48 387.00,345.50 C388.00,346.52 388.67,347.80 390.00,349.50 C391.33,351.20 393.40,353.63 395.00,355.70 C396.60,357.77 398.83,360.87 399.60,361.90" stroke="#ff0d0d" stroke-width="1.9" fill="none"/>
<rect x="317.9" y="217.3" width="81.7" height="163.9" fill="none" stroke="#555" stroke-width="1" />
<line x1="336.5" y1="381.2" x2="336.5" y2="384" stroke="#555" stroke-width="0.9" />
<line x1="368.4" y1="381.2" x2="368.4" y2="384" stroke="#555" stroke-width="0.9" />
<line x1="399.3" y1="381.2" x2="399.3" y2="384" stroke="#555" stroke-width="0.9" />
<line x1="321.1" y1="381.2" x2="321.1" y2="383.2" stroke="#555" stroke-width="0.9" />
<line x1="352.4" y1="381.2" x2="352.4" y2="383.2" stroke="#555" stroke-width="0.9" />
<line x1="383.7" y1="381.2" x2="383.7" y2="383.2" stroke="#555" stroke-width="0.9" />
<text x="334" y="394.2" font-size="9" font-weight="normal" text-anchor="middle" fill="#222" >2950</text>
<text x="366.3" y="394.2" font-size="9" font-weight="normal" text-anchor="middle" fill="#222" >2900</text>
<text x="398.3" y="394.2" font-size="9" font-weight="normal" text-anchor="middle" fill="#222" >2850</text>
<text x="370" y="223.8" font-size="6.5" font-weight="normal" text-anchor="start" fill="#111" >*</text>
<text x="372.4" y="226.3" font-size="9" font-weight="normal" text-anchor="start" fill="#111" textLength="13.4" lengthAdjust="spacingAndGlyphs">CH</text>
<text x="386" y="228.3" font-size="6.2" font-weight="normal" text-anchor="start" fill="#111" >3</text>
<line x1="369.7" y1="223.2" x2="331.4" y2="231" stroke="#222" stroke-width="0.6" />
<line x1="384.2" y1="230.5" x2="385.02" y2="265.5" stroke="#222" stroke-width="0.6" />
<polygon points="385.1,268.7 383.72,265.53 386.32,265.47" fill="#222" />
<text x="348.8" y="237.8" font-size="6.5" font-weight="normal" text-anchor="start" fill="#111" >*</text>
<text x="351" y="240.5" font-size="9" font-weight="normal" text-anchor="start" fill="#111" textLength="12.3" lengthAdjust="spacingAndGlyphs">CH</text>
<text x="363.4" y="242.5" font-size="6.2" font-weight="normal" text-anchor="start" fill="#111" >2</text>
<line x1="354.2" y1="242.3" x2="350.5" y2="250.5" stroke="#222" stroke-width="0.6" />
<path d="M362,252 Q367.8,257 361.4,263.6" stroke="#111" stroke-width="1.3" fill="none" />
<polyline points="369.6,263.4 364.7,268 369.3,268" stroke="#222" stroke-width="0.8" fill="none" stroke-linejoin="round" />
<text x="373" y="268.3" font-size="8.6" font-weight="bold" font-style="italic" font-family="Liberation Serif, serif" fill="#111">1</text>
<polyline points="368.2,292.1 363.3,296.7 367.9,296.7" stroke="#222" stroke-width="0.8" fill="none" stroke-linejoin="round" />
<text x="370.8" y="297.9" font-size="8.6" font-weight="bold" font-style="italic" font-family="Liberation Serif, serif" fill="#111">2</text>
<polyline points="368.2,337.1 363.3,341.7 367.9,341.7" stroke="#222" stroke-width="0.8" fill="none" stroke-linejoin="round" />
<text x="371" y="342.9" font-size="8.6" font-weight="bold" font-style="italic" font-family="Liberation Serif, serif" fill="#111">3</text>
<text x="331.9" y="367.1" font-size="7.3" transform="rotate(-90 331.9 367.1)" fill="#111">2960 cm<tspan font-size="5" dy="-3">-1</tspan></text>
<text x="349" y="373.3" font-size="7.3" transform="rotate(-90 349 373.3)" fill="#111">2930 cm<tspan font-size="5" dy="-3">-1</tspan></text>
<text x="386.3" y="380.5" font-size="7.3" transform="rotate(-90 386.3 380.5)" fill="#111">2874 cm<tspan font-size="5" dy="-3">-1</tspan></text>
<text x="310.5" y="346.2" font-size="11" font-weight="bold" text-anchor="start" fill="#000" transform="rotate(-90 310.5 346.2)" textLength="87.1" lengthAdjust="spacingAndGlyphs">Absorbance (a.u.)</text>
<text x="340" y="409.2" font-size="12" font-weight="bold" text-anchor="start" fill="#000" textLength="109" lengthAdjust="spacingAndGlyphs"><tspan dy="0">Wavenumber (cm</tspan><tspan dy="-4.5" font-size="8.16">-1</tspan><tspan dy="4.5">)</tspan></text>
<text x="281.2" y="227.8" font-size="21.5" font-weight="bold" text-anchor="start" fill="#000" >e</text>
<line x1="427.9" y1="240" x2="427.9" y2="335" stroke="#555" stroke-width="0.8" stroke-dasharray="2.2 2.2"/>
<line x1="456.7" y1="240" x2="456.7" y2="335" stroke="#555" stroke-width="0.8" stroke-dasharray="2.2 2.2"/>
<line x1="478.1" y1="240" x2="478.1" y2="335" stroke="#555" stroke-width="0.8" stroke-dasharray="2.2 2.2"/>
<polyline points="413.6,253.19 414.45,252.66 415.3,252.23 416.15,250.93 417,250.74 417.8,250.02 418.6,248.8 419.4,248.46 420.2,247.89 421,247.12 421.88,246.17 422.75,245.75 423.62,245.04 424.5,244.57 425.35,244.29 426.2,243.8 427.05,243.3 427.9,242.99 428.93,243.39 429.97,243.83 431,244.33 431.8,244.43 432.6,244.66 433.4,244.87 434.2,245.34 435,245.39 435.83,246.03 436.67,246.08 437.5,246.6 438.33,246.66 439.17,246.5 440,247.08 440.83,246.94 441.67,247.62 442.5,247.49 443.33,247.25 444.17,247.89 445,247.52 445.83,247.58 446.67,248.1 447.5,247.73 448.33,248.31 449.17,247.93 450,248.17 451,247.77 452,247.48 453,247.05 454,245.95 455,244.79 456.5,243.36 458,244.69 459,245.56 460,247.09 461,248.32 461.8,248.82 462.6,249.92 463.4,250.25 464.2,251.04 465,251.54 465.8,251.71 466.6,252.47 467.4,252.74 468.2,253.81 469,253.87 470,254.32 471,254.78 472,255.44 473,255.4 474,255.11 475,254.67 476,254.67 477,254.16 478,253.09 479,254.34 480,255.15 481,256.6 482,257.85 483,258.85 484,260.26 485,261.93 486,263.81 487,264.47 488,265.4 489,266.1 490,266.57 491,266.49 491.93,266.4 492.87,266.79 493.8,266.8" stroke="#1414ff" stroke-width="1.7" fill="none" stroke-linejoin="round" />
<polyline points="413.6,292.62 414.8,291.25 416,289.16 416.8,288.52 417.6,288.05 418.4,287.08 419.2,286.4 420,285.16 420.8,284.76 421.6,284.73 422.4,284.45 423.2,284.07 424,283.21 425,283.51 426,283.23 427,283.39 428,283.67 429,283.33 430,284.41 431,284.19 432,284.92 433,285.13 434,285.61 435,286.1 436,286.94 436.8,286.88 437.6,287.38 438.4,288.39 439.2,289.41 440,289.32 441,289.49 442,290.44 443,290.35 443.8,290.15 444.6,289.04 445.4,288.65 446.2,288.09 447,287.83 448,286.64 449,285.01 450,282.83 450.83,278.98 451.67,275.53 452.5,271.98 453.5,267.38 454.5,263.56 455.5,262.14 456.5,261.36 457.5,262.71 458.5,264.2 459.5,269.35 460.5,274.95 461.5,281.85 462.5,287.96 463.33,291.5 464.17,294.65 465,298.38 465.83,299.93 466.67,302.26 467.5,304.9 468.33,306.26 469.17,308.24 470,309.9 471,311.19 472,311.79 472.83,310.3 473.67,309.58 474.5,309.38 475.5,305.38 476.5,301.95 478,300.04 479.5,301.71 481,314.41 482.5,325.97 483.5,329.49 484.5,332.06 485.38,332.42 486.25,333.31 487.12,333.33 488,333.4 488.83,333.83 489.66,333.72 490.49,333.53 491.31,333.45 492.14,333.53 492.97,333.87 493.8,333.8" stroke="#000" stroke-width="1.7" fill="none" stroke-linejoin="round" />
<polyline points="413.6,343.52 414.45,342.77 415.3,342.15 416.15,341.49 417,340.24 417.8,339.93 418.6,339.3 419.4,338.97 420.2,338.35 421,337.79 421.8,337.37 422.6,336.87 423.4,336.88 424.2,336.84 425,336.43 426,336.25 427,336.28 428,335.91 428.8,336.27 429.6,336.37 430.4,336.57 431.2,336.71 432,337.04 432.8,336.64 433.6,336.95 434.4,336.86 435.2,336.89 436,336.4 436.8,336.81 437.6,337.14 438.4,337.21 439.2,337.51 440,337.52 440.83,337.65 441.67,337.35 442.5,337.42 443.33,337.62 444.17,337.24 445,337.67 445.83,337.3 446.67,336.98 447.5,336.62 448.33,336.62 449.17,336.52 450,335.79 451,334.96 452,333.89 453,332.78 453.88,331.71 454.75,330.63 455.62,329.74 456.5,328.68 457.33,329.38 458.17,330.1 459,330.81 460,332.57 461,334.1 462,335.42 462.8,336.31 463.6,337.07 464.4,337.67 465.2,338.17 466,338.92 466.8,339.27 467.6,339.26 468.4,339.2 469.2,339.43 470,339.26 470.8,339.47 471.6,339.18 472.4,338.3 473.2,338.47 474,338.18 474.8,337.46 475.6,337.17 476.4,337.03 477.2,336.13 478,335.76 479,336.6 480,337.45 481,338.78 481.8,338.87 482.6,339.38 483.4,339.64 484.2,340.39 485,340.99 485.83,340.58 486.67,340.83 487.5,340.53 488.33,340.87 489.17,340.57 490,340.63 490.95,340.81 491.9,340.52 492.85,340.57 493.8,340.8" stroke="#1a9a1a" stroke-width="1.7" fill="none" stroke-linejoin="round" />
<rect x="413.6" y="217.3" width="80.2" height="164.6" fill="none" stroke="#555" stroke-width="1" />
<line x1="431.4" y1="381.9" x2="431.4" y2="384.7" stroke="#555" stroke-width="0.9" />
<line x1="462.6" y1="381.9" x2="462.6" y2="384.7" stroke="#555" stroke-width="0.9" />
<line x1="493.8" y1="381.9" x2="493.8" y2="384.7" stroke="#555" stroke-width="0.9" />
<line x1="416.1" y1="381.9" x2="416.1" y2="383.9" stroke="#555" stroke-width="0.9" />
<line x1="446.6" y1="381.9" x2="446.6" y2="383.9" stroke="#555" stroke-width="0.9" />
<line x1="477.8" y1="381.9" x2="477.8" y2="383.9" stroke="#555" stroke-width="0.9" />
<text x="431.4" y="394.2" font-size="9" font-weight="normal" text-anchor="middle" fill="#222" >1560</text>
<text x="462.6" y="394.2" font-size="9" font-weight="normal" text-anchor="middle" fill="#222" >1440</text>
<text x="493" y="394.2" font-size="9" font-weight="normal" text-anchor="middle" fill="#222" >1320</text>
<text x="414.7" y="233.5" font-size="8.5" font-weight="normal" text-anchor="start" fill="#000" textLength="23.4" lengthAdjust="spacingAndGlyphs">ν(C=C)</text>
<text x="443.2" y="224.6" font-size="8.5" font-weight="normal" text-anchor="start" fill="#000" textLength="19.1" lengthAdjust="spacingAndGlyphs">(C=C)</text>
<text x="462.3" y="238.6" font-size="8.5" font-weight="normal" text-anchor="start" fill="#000" textLength="18.6" lengthAdjust="spacingAndGlyphs">(C-H)</text>
<line x1="427.9" y1="235" x2="427.9" y2="238.8" stroke="#222" stroke-width="0.6" />
<polygon points="427.9,242 426.6,238.8 429.2,238.8" fill="#222" />
<line x1="456.3" y1="226.5" x2="456.46" y2="238.8" stroke="#222" stroke-width="0.6" />
<polygon points="456.5,242 455.16,238.82 457.76,238.78" fill="#222" />
<line x1="478.1" y1="240.5" x2="478.1" y2="248.8" stroke="#222" stroke-width="0.6" />
<polygon points="478.1,252 476.8,248.8 479.4,248.8" fill="#222" />
<text x="428.6" y="372.8" font-size="7.3" transform="rotate(-90 428.6 372.8)" fill="#111">1585 cm<tspan font-size="5" dy="-3">-1</tspan></text>
<text x="455.6" y="371.2" font-size="7.3" transform="rotate(-90 455.6 371.2)" fill="#111">1465 cm<tspan font-size="5" dy="-3">-1</tspan></text>
<text x="477.4" y="376" font-size="7.3" transform="rotate(-90 477.4 376)" fill="#111">1384 cm<tspan font-size="5" dy="-3">-1</tspan></text>
<text x="507.5" y="229.5" font-size="21.5" font-weight="bold" text-anchor="start" fill="#000" >f</text>
<rect x="564.8" y="355.9" width="15.6" height="24.1" fill="url(#gRed)" stroke="none" stroke-width="0" stroke="#333" stroke-width="0.5"/>
<rect x="580.4" y="324.4" width="15.3" height="55.6" fill="url(#gPur)" stroke="none" stroke-width="0" stroke="#333" stroke-width="0.5"/>
<rect x="616" y="353.7" width="15.2" height="26.3" fill="url(#gRed)" stroke="none" stroke-width="0" stroke="#333" stroke-width="0.5"/>
<rect x="631.2" y="281.9" width="15.1" height="98.1" fill="url(#gPur)" stroke="none" stroke-width="0" stroke="#333" stroke-width="0.5"/>
<rect x="554.4" y="217.3" width="102.1" height="162.7" fill="none" stroke="#666" stroke-width="1" />
<line x1="551.9" y1="380" x2="554.4" y2="380" stroke="#666" stroke-width="0.9" />
<line x1="656.5" y1="380" x2="659" y2="380" stroke="#666" stroke-width="0.9" />
<text x="550.3" y="382.8" font-size="10.3" font-weight="normal" text-anchor="end" fill="#111" >0</text>
<text x="660.6" y="382.8" font-size="10.3" font-weight="normal" text-anchor="start" fill="#111" >0</text>
<line x1="552.8" y1="366.44" x2="554.4" y2="366.44" stroke="#666" stroke-width="0.9" />
<line x1="656.5" y1="366.44" x2="658.1" y2="366.44" stroke="#666" stroke-width="0.9" />
<line x1="551.9" y1="352.88" x2="554.4" y2="352.88" stroke="#666" stroke-width="0.9" />
<line x1="656.5" y1="352.88" x2="659" y2="352.88" stroke="#666" stroke-width="0.9" />
<text x="550.3" y="355.68" font-size="10.3" font-weight="normal" text-anchor="end" fill="#111" >1</text>
<text x="660.6" y="355.68" font-size="10.3" font-weight="normal" text-anchor="start" fill="#111" >1</text>
<line x1="552.8" y1="339.32" x2="554.4" y2="339.32" stroke="#666" stroke-width="0.9" />
<line x1="656.5" y1="339.32" x2="658.1" y2="339.32" stroke="#666" stroke-width="0.9" />
<line x1="551.9" y1="325.77" x2="554.4" y2="325.77" stroke="#666" stroke-width="0.9" />
<line x1="656.5" y1="325.77" x2="659" y2="325.77" stroke="#666" stroke-width="0.9" />
<text x="550.3" y="328.57" font-size="10.3" font-weight="normal" text-anchor="end" fill="#111" >2</text>
<text x="660.6" y="328.57" font-size="10.3" font-weight="normal" text-anchor="start" fill="#111" >2</text>
<line x1="552.8" y1="312.21" x2="554.4" y2="312.21" stroke="#666" stroke-width="0.9" />
<line x1="656.5" y1="312.21" x2="658.1" y2="312.21" stroke="#666" stroke-width="0.9" />
<line x1="551.9" y1="298.65" x2="554.4" y2="298.65" stroke="#666" stroke-width="0.9" />
<line x1="656.5" y1="298.65" x2="659" y2="298.65" stroke="#666" stroke-width="0.9" />
<text x="550.3" y="301.45" font-size="10.3" font-weight="normal" text-anchor="end" fill="#111" >3</text>
<text x="660.6" y="301.45" font-size="10.3" font-weight="normal" text-anchor="start" fill="#111" >3</text>
<line x1="552.8" y1="285.09" x2="554.4" y2="285.09" stroke="#666" stroke-width="0.9" />
<line x1="656.5" y1="285.09" x2="658.1" y2="285.09" stroke="#666" stroke-width="0.9" />
<line x1="551.9" y1="271.53" x2="554.4" y2="271.53" stroke="#666" stroke-width="0.9" />
<line x1="656.5" y1="271.53" x2="659" y2="271.53" stroke="#666" stroke-width="0.9" />
<text x="550.3" y="274.33" font-size="10.3" font-weight="normal" text-anchor="end" fill="#111" >4</text>
<text x="660.6" y="274.33" font-size="10.3" font-weight="normal" text-anchor="start" fill="#111" >4</text>
<line x1="552.8" y1="257.98" x2="554.4" y2="257.98" stroke="#666" stroke-width="0.9" />
<line x1="656.5" y1="257.98" x2="658.1" y2="257.98" stroke="#666" stroke-width="0.9" />
<line x1="551.9" y1="244.42" x2="554.4" y2="244.42" stroke="#666" stroke-width="0.9" />
<line x1="656.5" y1="244.42" x2="659" y2="244.42" stroke="#666" stroke-width="0.9" />
<text x="550.3" y="247.22" font-size="10.3" font-weight="normal" text-anchor="end" fill="#111" >5</text>
<text x="660.6" y="247.22" font-size="10.3" font-weight="normal" text-anchor="start" fill="#111" >5</text>
<line x1="552.8" y1="230.86" x2="554.4" y2="230.86" stroke="#666" stroke-width="0.9" />
<line x1="656.5" y1="230.86" x2="658.1" y2="230.86" stroke="#666" stroke-width="0.9" />
<line x1="551.9" y1="217.3" x2="554.4" y2="217.3" stroke="#666" stroke-width="0.9" />
<line x1="656.5" y1="217.3" x2="659" y2="217.3" stroke="#666" stroke-width="0.9" />
<text x="550.3" y="220.1" font-size="10.3" font-weight="normal" text-anchor="end" fill="#111" >6</text>
<text x="660.6" y="220.1" font-size="10.3" font-weight="normal" text-anchor="start" fill="#111" >6</text>
<line x1="580.4" y1="380" x2="580.4" y2="382.8" stroke="#666" stroke-width="0.9" />
<line x1="631.3" y1="380" x2="631.3" y2="382.8" stroke="#666" stroke-width="0.9" />
<text x="580.2" y="394" font-size="10" font-weight="normal" text-anchor="middle" fill="#111" >18</text>
<text x="631" y="394" font-size="10" font-weight="normal" text-anchor="middle" fill="#111" >19</text>
<text x="593.9" y="406.3" font-size="13" font-weight="bold" text-anchor="start" fill="#000" textLength="22.1" lengthAdjust="spacingAndGlyphs">m/z</text>
<rect x="580" y="221.2" width="16.1" height="7.4" fill="url(#gPur)" stroke="none" stroke-width="0" />
<text x="600.8" y="227.4" font-size="8.5" font-weight="normal" text-anchor="start" fill="#000" textLength="54.8" lengthAdjust="spacingAndGlyphs"><tspan dy="0">WMO/MeSiO</tspan><tspan dy="2.38" font-size="5.78">2</tspan></text>
<rect x="590.5" y="235.2" width="16.1" height="8.1" fill="url(#gRed)" stroke="none" stroke-width="0" stroke="#333" stroke-width="0.5"/>
<text x="609.7" y="241.7" font-size="8.5" font-weight="normal" text-anchor="start" fill="#000" textLength="45.3" lengthAdjust="spacingAndGlyphs">Plasma only</text>
<path d="M625.9,262.5 L625.9,252.4 L638,252.4" stroke="#222" stroke-width="0.9" fill="none" />
<polygon points="637,249.6 644.4,252.4 637,255.2" fill="#222" />
<text x="615.6" y="276.1" font-size="10.8" font-weight="normal" text-anchor="start" fill="#000" textLength="25" lengthAdjust="spacingAndGlyphs"><tspan dy="0">CHD</tspan><tspan dy="3.02" font-size="7.34">3</tspan></text>
<path d="M579.9,304.3 L579.9,295.9 L568,295.9" stroke="#222" stroke-width="0.9" fill="none" />
<polygon points="568.6,293.1 561.2,295.9 568.6,298.7" fill="#222" />
<text x="562.8" y="315.9" font-size="10" font-weight="normal" text-anchor="start" fill="#000" textLength="28.7" lengthAdjust="spacingAndGlyphs"><tspan dy="0">CH</tspan><tspan dy="2.8" font-size="6.8">2</tspan><tspan dy="-2.8">D</tspan><tspan dy="2.8" font-size="6.8">2</tspan></text>
<text x="537.5" y="366.7" font-size="9.6" font-weight="bold" text-anchor="start" fill="#000" transform="rotate(-90 537.5 366.7)" textLength="133" lengthAdjust="spacingAndGlyphs"><tspan dy="0">Relative intensity (a.u., ×10</tspan><tspan dy="-3.6" font-size="6.53">-8</tspan><tspan dy="3.6">)</tspan></text>
<text x="680" y="364.7" font-size="9.6" font-weight="bold" text-anchor="start" fill="#000" transform="rotate(-90 680 364.7)" textLength="133.1" lengthAdjust="spacingAndGlyphs"><tspan dy="0">Relative intensity (a.u., ×10</tspan><tspan dy="-3.6" font-size="6.53">-9</tspan><tspan dy="3.6">)</tspan></text>
</svg></body></html>
